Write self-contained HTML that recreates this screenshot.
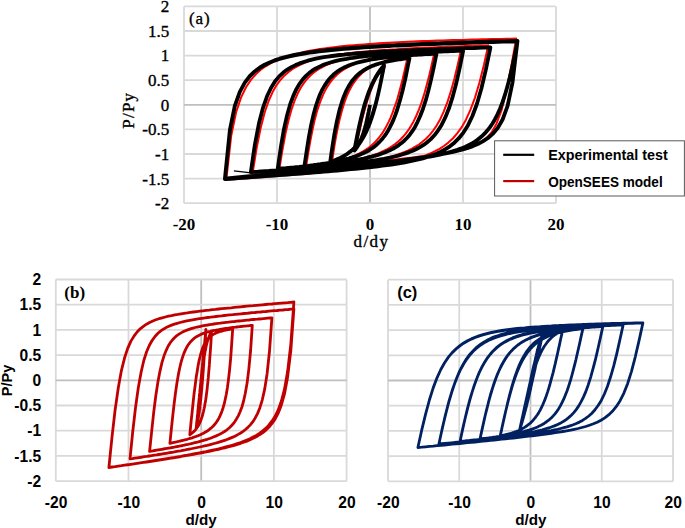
<!DOCTYPE html>
<html><head><meta charset="utf-8"><style>
html,body{margin:0;padding:0;background:#fff;}
svg{display:block;}
</style></head><body>
<svg width="685" height="528" viewBox="0 0 685 528">
<rect width="685" height="528" fill="#fff"/>
<line x1="184.00" y1="6.40" x2="184.00" y2="203.20" stroke="#d9d9d9" stroke-width="1.8"/>
<line x1="277.00" y1="6.40" x2="277.00" y2="203.20" stroke="#d9d9d9" stroke-width="1.8"/>
<line x1="370.00" y1="6.40" x2="370.00" y2="203.20" stroke="#bfbfbf" stroke-width="1.8"/>
<line x1="463.00" y1="6.40" x2="463.00" y2="203.20" stroke="#d9d9d9" stroke-width="1.8"/>
<line x1="556.00" y1="6.40" x2="556.00" y2="203.20" stroke="#d9d9d9" stroke-width="1.8"/>
<line x1="184.00" y1="6.40" x2="556.00" y2="6.40" stroke="#d9d9d9" stroke-width="1.8"/>
<line x1="184.00" y1="31.00" x2="556.00" y2="31.00" stroke="#d9d9d9" stroke-width="1.8"/>
<line x1="184.00" y1="55.60" x2="556.00" y2="55.60" stroke="#d9d9d9" stroke-width="1.8"/>
<line x1="184.00" y1="80.20" x2="556.00" y2="80.20" stroke="#d9d9d9" stroke-width="1.8"/>
<line x1="184.00" y1="104.80" x2="556.00" y2="104.80" stroke="#bfbfbf" stroke-width="1.8"/>
<line x1="184.00" y1="129.40" x2="556.00" y2="129.40" stroke="#d9d9d9" stroke-width="1.8"/>
<line x1="184.00" y1="154.00" x2="556.00" y2="154.00" stroke="#d9d9d9" stroke-width="1.8"/>
<line x1="184.00" y1="178.60" x2="556.00" y2="178.60" stroke="#d9d9d9" stroke-width="1.8"/>
<line x1="184.00" y1="203.20" x2="556.00" y2="203.20" stroke="#d9d9d9" stroke-width="1.8"/>
<line x1="55.80" y1="279.50" x2="55.80" y2="481.10" stroke="#d9d9d9" stroke-width="1.8"/>
<line x1="128.50" y1="279.50" x2="128.50" y2="481.10" stroke="#d9d9d9" stroke-width="1.8"/>
<line x1="201.20" y1="279.50" x2="201.20" y2="481.10" stroke="#bfbfbf" stroke-width="1.8"/>
<line x1="273.90" y1="279.50" x2="273.90" y2="481.10" stroke="#d9d9d9" stroke-width="1.8"/>
<line x1="346.60" y1="279.50" x2="346.60" y2="481.10" stroke="#d9d9d9" stroke-width="1.8"/>
<line x1="55.80" y1="279.50" x2="346.60" y2="279.50" stroke="#d9d9d9" stroke-width="1.8"/>
<line x1="55.80" y1="304.70" x2="346.60" y2="304.70" stroke="#d9d9d9" stroke-width="1.8"/>
<line x1="55.80" y1="329.90" x2="346.60" y2="329.90" stroke="#d9d9d9" stroke-width="1.8"/>
<line x1="55.80" y1="355.10" x2="346.60" y2="355.10" stroke="#d9d9d9" stroke-width="1.8"/>
<line x1="55.80" y1="380.30" x2="346.60" y2="380.30" stroke="#bfbfbf" stroke-width="1.8"/>
<line x1="55.80" y1="405.50" x2="346.60" y2="405.50" stroke="#d9d9d9" stroke-width="1.8"/>
<line x1="55.80" y1="430.70" x2="346.60" y2="430.70" stroke="#d9d9d9" stroke-width="1.8"/>
<line x1="55.80" y1="455.90" x2="346.60" y2="455.90" stroke="#d9d9d9" stroke-width="1.8"/>
<line x1="55.80" y1="481.10" x2="346.60" y2="481.10" stroke="#d9d9d9" stroke-width="1.8"/>
<line x1="388.00" y1="279.70" x2="388.00" y2="481.30" stroke="#d9d9d9" stroke-width="1.8"/>
<line x1="459.25" y1="279.70" x2="459.25" y2="481.30" stroke="#d9d9d9" stroke-width="1.8"/>
<line x1="530.50" y1="279.70" x2="530.50" y2="481.30" stroke="#bfbfbf" stroke-width="1.8"/>
<line x1="601.75" y1="279.70" x2="601.75" y2="481.30" stroke="#d9d9d9" stroke-width="1.8"/>
<line x1="673.00" y1="279.70" x2="673.00" y2="481.30" stroke="#d9d9d9" stroke-width="1.8"/>
<line x1="388.00" y1="279.70" x2="673.00" y2="279.70" stroke="#d9d9d9" stroke-width="1.8"/>
<line x1="388.00" y1="304.90" x2="673.00" y2="304.90" stroke="#d9d9d9" stroke-width="1.8"/>
<line x1="388.00" y1="330.10" x2="673.00" y2="330.10" stroke="#d9d9d9" stroke-width="1.8"/>
<line x1="388.00" y1="355.30" x2="673.00" y2="355.30" stroke="#d9d9d9" stroke-width="1.8"/>
<line x1="388.00" y1="380.50" x2="673.00" y2="380.50" stroke="#bfbfbf" stroke-width="1.8"/>
<line x1="388.00" y1="405.70" x2="673.00" y2="405.70" stroke="#d9d9d9" stroke-width="1.8"/>
<line x1="388.00" y1="430.90" x2="673.00" y2="430.90" stroke="#d9d9d9" stroke-width="1.8"/>
<line x1="388.00" y1="456.10" x2="673.00" y2="456.10" stroke="#d9d9d9" stroke-width="1.8"/>
<line x1="388.00" y1="481.30" x2="673.00" y2="481.30" stroke="#d9d9d9" stroke-width="1.8"/>
<path d="M370.0,104.8L369.8,106.0L369.5,107.1L369.3,108.3L369.0,109.4L368.8,110.6L368.5,111.7L368.3,112.8L368.0,113.9L367.8,115.0L367.6,116.1L367.3,117.1L367.1,118.2L366.8,119.2L366.6,120.2L366.3,121.2L366.1,122.2L365.8,123.2L365.6,124.1L365.4,125.0L365.1,125.9L364.9,126.8L364.6,127.7L364.4,128.5L364.1,129.4L363.9,130.2L363.6,131.0L363.4,131.8L363.2,132.5L362.9,133.3L362.7,134.0L362.4,134.7L362.2,135.4L361.9,136.1L361.7,136.8L361.4,137.4L361.2,138.1L361.0,138.7L360.7,139.3L360.5,139.9L360.2,140.4L360.0,141.0L359.7,141.5L359.5,142.1L359.2,142.6L359.0,143.1L358.8,143.6L358.5,144.1L358.3,144.6L358.0,145.0L357.8,145.5L357.5,145.9L357.3,146.3L357.1,146.8L356.8,147.2L356.6,147.6L356.3,148.0L356.1,148.3L355.8,148.7L355.6,149.1L356.1,146.7L356.6,144.4L357.1,142.0L357.6,139.7L358.1,137.4L358.6,135.1L359.1,132.9L359.6,130.7L360.1,128.5L360.6,126.3L361.0,124.2L361.5,122.1L362.0,120.1L362.5,118.1L363.0,116.1L363.5,114.2L364.0,112.3L364.5,110.4L365.0,108.6L365.5,106.9L366.0,105.2L366.5,103.5L367.0,101.9L367.5,100.3L368.0,98.7L368.5,97.2L369.0,95.7L369.5,94.3L370.0,92.9L370.5,91.5L371.0,90.2L371.5,88.9L372.0,87.6L372.5,86.4L373.0,85.2L373.5,84.0L374.0,82.9L374.5,81.8L374.9,80.7L375.4,79.7L375.9,78.7L376.4,77.7L376.9,76.7L377.4,75.8L377.9,74.9L378.4,74.0L378.9,73.2L379.4,72.3L379.9,71.5L380.4,70.7L380.9,69.9L381.4,69.2L381.9,68.5L382.4,67.7L382.9,67.1L383.4,66.4L383.9,65.7L384.4,65.1L384.9,64.5L384.4,66.8L383.9,69.2L383.4,71.5L382.9,73.8L382.4,76.1L381.9,78.4L381.4,80.7L380.9,82.9L380.4,85.1L379.9,87.2L379.4,89.3L378.9,91.4L378.4,93.5L377.9,95.5L377.4,97.4L376.9,99.4L376.4,101.2L375.9,103.1L375.4,104.9L374.9,106.6L374.5,108.3L374.0,110.0L373.5,111.7L373.0,113.2L372.5,114.8L372.0,116.3L371.5,117.8L371.0,119.2L370.5,120.6L370.0,122.0L369.5,123.3L369.0,124.6L368.5,125.9L368.0,127.1L367.5,128.3L367.0,129.5L366.5,130.6L366.0,131.7L365.5,132.8L365.0,133.8L364.5,134.8L364.0,135.8L363.5,136.8L363.0,137.7L362.5,138.6L362.0,139.5L361.5,140.3L361.0,141.2L360.6,142.0L360.1,142.8L359.6,143.6L359.1,144.3L358.6,145.1L358.1,145.8L357.6,146.5L357.1,147.1L356.6,147.8L356.1,148.5L355.6,149.1L356.1,146.7L356.6,144.4L357.1,142.0L357.6,139.7L358.1,137.4L358.6,135.1L359.1,132.9L359.6,130.7L360.1,128.5L360.6,126.3L361.0,124.2L361.5,122.1L362.0,120.1L362.5,118.1L363.0,116.1L363.5,114.2L364.0,112.3L364.5,110.4L365.0,108.6L365.5,106.9L366.0,105.2L366.5,103.5L367.0,101.9L367.5,100.3L368.0,98.7L368.5,97.2L369.0,95.7L369.5,94.3L370.0,92.9L370.5,91.5L371.0,90.2L371.5,88.9L372.0,87.6L372.5,86.4L373.0,85.2L373.5,84.0L374.0,82.9L374.5,81.8L374.9,80.7L375.4,79.7L375.9,78.7L376.4,77.7L376.9,76.7L377.4,75.8L377.9,74.9L378.4,74.0L378.9,73.2L379.4,72.3L379.9,71.5L380.4,70.7L380.9,69.9L381.4,69.2L381.9,68.5L382.4,67.7L382.9,67.1L383.4,66.4L383.9,65.7L384.4,65.1L384.9,64.5L384.0,68.5L383.1,72.6L382.2,76.6L381.3,80.5L380.4,84.3L379.5,88.0L378.6,91.6L377.7,95.1L376.8,98.5L375.9,101.7L375.0,104.8L374.1,107.8L373.2,110.6L372.3,113.3L371.4,115.9L370.5,118.4L369.6,120.7L368.7,122.9L367.8,125.1L366.9,127.1L366.0,129.0L365.1,130.8L364.2,132.6L363.3,134.2L362.4,135.8L361.5,137.3L360.6,138.7L359.7,140.1L358.8,141.4L357.9,142.6L357.0,143.8L356.1,144.9L355.2,145.9L354.3,147.0L353.4,147.9L352.5,148.9L351.6,149.7L350.7,150.6L349.8,151.4L348.9,152.2L348.0,152.9L347.1,153.6L346.2,154.3L345.3,155.0L344.4,155.6L343.6,156.2L342.7,156.8L341.8,157.4L340.9,157.9L340.0,158.4L339.1,158.9L338.2,159.4L337.3,159.9L336.4,160.3L335.5,160.8L334.6,161.2L333.7,161.6L332.8,162.0L331.9,162.4L333.2,154.0L334.4,146.0L335.7,138.5L337.0,131.6L338.3,125.3L339.6,119.6L340.9,114.4L342.2,109.7L343.5,105.4L344.7,101.6L346.0,98.1L347.3,94.9L348.6,92.0L349.9,89.4L351.2,87.0L352.5,84.8L353.8,82.8L355.1,81.0L356.3,79.3L357.6,77.7L358.9,76.3L360.2,75.0L361.5,73.7L362.8,72.6L364.1,71.5L365.4,70.5L366.6,69.6L367.9,68.7L369.2,67.9L370.5,67.2L371.8,66.5L373.1,65.8L374.4,65.2L375.7,64.6L376.9,64.0L378.2,63.5L379.5,62.9L380.8,62.5L382.1,62.0L383.4,61.6L384.7,61.2L386.0,60.8L387.2,60.4L388.5,60.0L389.8,59.7L391.1,59.4L392.4,59.0L393.7,58.7L395.0,58.5L396.3,58.2L397.5,57.9L398.8,57.7L400.1,57.4L401.4,57.2L402.7,56.9L404.0,56.7L405.3,56.5L406.6,56.3L407.9,56.1L406.1,63.9L404.4,71.5L402.7,78.8L400.9,85.7L399.2,92.2L397.5,98.2L395.8,103.7L394.0,108.7L392.3,113.4L390.6,117.6L388.9,121.4L387.1,124.9L385.4,128.1L383.7,131.0L382.0,133.6L380.2,136.0L378.5,138.2L376.8,140.2L375.1,142.0L373.3,143.7L371.6,145.3L369.9,146.7L368.2,148.0L366.4,149.2L364.7,150.4L363.0,151.4L361.2,152.4L359.5,153.3L357.8,154.2L356.1,155.0L354.3,155.8L352.6,156.5L350.9,157.2L349.2,157.8L347.4,158.4L345.7,159.0L344.0,159.5L342.3,160.1L340.5,160.5L338.8,161.0L337.1,161.5L335.4,161.9L333.6,162.3L331.9,162.7L330.2,163.1L328.5,163.5L326.7,163.8L325.0,164.2L323.3,164.5L321.6,164.8L319.8,165.1L318.1,165.4L316.4,165.7L314.6,166.0L312.9,166.3L311.2,166.5L309.5,166.8L307.7,167.0L306.0,167.3L308.2,153.3L310.4,140.6L312.6,129.5L314.7,119.9L316.9,111.8L319.1,104.9L321.3,99.0L323.5,93.9L325.6,89.6L327.8,85.9L330.0,82.7L332.2,79.8L334.4,77.4L336.5,75.2L338.7,73.3L340.9,71.5L343.1,70.0L345.3,68.6L347.4,67.4L349.6,66.3L351.8,65.2L354.0,64.3L356.2,63.4L358.3,62.6L360.5,61.9L362.7,61.2L364.9,60.6L367.1,60.0L369.2,59.5L371.4,59.0L373.6,58.5L375.8,58.1L378.0,57.7L380.1,57.3L382.3,56.9L384.5,56.6L386.7,56.2L388.9,55.9L391.0,55.6L393.2,55.3L395.4,55.1L397.6,54.8L399.8,54.6L401.9,54.3L404.1,54.1L406.3,53.9L408.5,53.7L410.7,53.5L412.8,53.3L415.0,53.1L417.2,52.9L419.4,52.7L421.6,52.6L423.7,52.4L425.9,52.3L428.1,52.1L430.3,52.0L432.5,51.8L434.6,51.7L432.0,63.5L429.4,74.8L426.7,85.1L424.1,94.4L421.5,102.6L418.8,109.8L416.2,116.0L413.6,121.4L410.9,126.1L408.3,130.2L405.7,133.7L403.0,136.8L400.4,139.5L397.8,141.9L395.1,144.1L392.5,145.9L389.9,147.6L387.3,149.1L384.6,150.5L382.0,151.7L379.4,152.9L376.7,153.9L374.1,154.9L371.5,155.7L368.8,156.5L366.2,157.3L363.6,158.0L360.9,158.7L358.3,159.3L355.7,159.9L353.0,160.4L350.4,160.9L347.8,161.4L345.1,161.9L342.5,162.3L339.9,162.8L337.2,163.2L334.6,163.6L332.0,164.0L329.3,164.3L326.7,164.7L324.1,165.0L321.4,165.4L318.8,165.7L316.2,166.0L313.5,166.3L310.9,166.6L308.3,166.9L305.6,167.2L303.0,167.4L300.4,167.7L297.8,168.0L295.1,168.3L292.5,168.5L289.9,168.8L287.2,169.0L284.6,169.3L282.0,169.5L279.3,169.7L282.4,150.2L285.5,133.6L288.6,120.0L291.7,109.0L294.7,100.3L297.8,93.3L300.9,87.5L304.0,82.9L307.1,79.0L310.2,75.8L313.3,73.0L316.3,70.7L319.4,68.7L322.5,67.0L325.6,65.4L328.7,64.1L331.8,62.9L334.9,61.9L337.9,60.9L341.0,60.1L344.1,59.3L347.2,58.6L350.3,57.9L353.4,57.3L356.4,56.8L359.5,56.3L362.6,55.8L365.7,55.4L368.8,55.0L371.9,54.6L375.0,54.3L378.0,53.9L381.1,53.6L384.2,53.3L387.3,53.0L390.4,52.8L393.5,52.5L396.5,52.3L399.6,52.0L402.7,51.8L405.8,51.6L408.9,51.4L412.0,51.2L415.1,51.0L418.1,50.8L421.2,50.6L424.3,50.5L427.4,50.3L430.5,50.1L433.6,50.0L436.6,49.8L439.7,49.7L442.8,49.5L445.9,49.4L449.0,49.2L452.1,49.1L455.2,49.0L458.2,48.8L461.3,48.7L457.8,64.5L454.3,79.1L450.7,91.9L447.2,102.7L443.6,111.8L440.1,119.4L436.6,125.6L433.0,130.8L429.5,135.1L426.0,138.8L422.4,141.8L418.9,144.5L415.3,146.7L411.8,148.7L408.3,150.4L404.7,152.0L401.2,153.3L397.7,154.5L394.1,155.6L390.6,156.6L387.0,157.5L383.5,158.4L380.0,159.2L376.4,159.9L372.9,160.5L369.4,161.2L365.8,161.8L362.3,162.3L358.7,162.9L355.2,163.4L351.7,163.8L348.1,164.3L344.6,164.7L341.1,165.2L337.5,165.6L334.0,166.0L330.5,166.4L326.9,166.7L323.4,167.1L319.8,167.5L316.3,167.8L312.8,168.1L309.2,168.5L305.7,168.8L302.2,169.1L298.6,169.4L295.1,169.8L291.5,170.1L288.0,170.4L284.5,170.7L280.9,171.0L277.4,171.2L273.9,171.5L270.3,171.8L266.8,172.1L263.2,172.4L259.7,172.6L256.2,172.9L252.6,173.2L256.6,148.3L260.6,128.2L264.6,112.8L268.6,101.0L272.6,92.1L276.6,85.1L280.6,79.7L284.6,75.4L288.6,71.9L292.6,69.0L296.6,66.6L300.6,64.5L304.6,62.8L308.6,61.3L312.5,60.0L316.5,58.9L320.5,57.9L324.5,57.0L328.5,56.2L332.5,55.5L336.5,54.8L340.5,54.2L344.5,53.7L348.5,53.2L352.5,52.7L356.5,52.3L360.5,51.9L364.5,51.5L368.5,51.2L372.5,50.8L376.5,50.5L380.5,50.2L384.4,49.9L388.4,49.7L392.4,49.4L396.4,49.2L400.4,48.9L404.4,48.7L408.4,48.5L412.4,48.3L416.4,48.1L420.4,47.9L424.4,47.7L428.4,47.5L432.4,47.4L436.4,47.2L440.4,47.0L444.4,46.9L448.4,46.7L452.3,46.5L456.3,46.4L460.3,46.2L464.3,46.1L468.3,45.9L472.3,45.8L476.3,45.7L480.3,45.5L484.3,45.4L488.3,45.3L483.9,65.0L479.4,82.7L475.0,97.6L470.5,109.7L466.1,119.4L461.7,127.2L457.2,133.4L452.8,138.5L448.3,142.6L443.9,146.0L439.5,148.8L435.0,151.2L430.6,153.3L426.1,155.1L421.7,156.7L417.3,158.0L412.8,159.3L408.4,160.4L403.9,161.4L399.5,162.3L395.0,163.2L390.6,164.0L386.2,164.7L381.7,165.4L377.3,166.0L372.8,166.6L368.4,167.2L364.0,167.7L359.5,168.3L355.1,168.8L350.6,169.3L346.2,169.7L341.8,170.2L337.3,170.6L332.9,171.1L328.4,171.5L324.0,171.9L319.6,172.3L315.1,172.7L310.7,173.1L306.2,173.5L301.8,173.8L297.4,174.2L292.9,174.6L288.5,174.9L284.0,175.3L279.6,175.6L275.2,176.0L270.7,176.3L266.3,176.6L261.8,177.0L257.4,177.3L253.0,177.6L248.5,178.0L244.1,178.3L239.6,178.6L235.2,178.9L230.8,179.3L226.3,179.6L231.2,135.8L236.1,112.2L241.1,97.4L246.0,87.2L250.9,79.9L255.8,74.3L260.7,69.8L265.6,66.3L270.5,63.4L275.4,60.9L280.4,58.8L285.3,57.0L290.2,55.4L295.1,54.1L300.0,52.9L304.9,51.8L309.8,50.8L314.8,49.9L319.7,49.1L324.6,48.4L329.5,47.8L334.4,47.2L339.3,46.6L344.2,46.1L349.1,45.6L354.1,45.2L359.0,44.7L363.9,44.4L368.8,44.0L373.7,43.7L378.6,43.3L383.5,43.0L388.5,42.8L393.4,42.5L398.3,42.2L403.2,42.0L408.1,41.8L413.0,41.5L417.9,41.3L422.8,41.1L427.8,41.0L432.7,40.8L437.6,40.6L442.5,40.4L447.4,40.3L452.3,40.1L457.2,40.0L462.2,39.9L467.1,39.7L472.0,39.6L476.9,39.5L481.8,39.3L486.7,39.2L491.6,39.1L496.5,39.0L501.5,38.9L506.4,38.8L511.3,38.7L516.2,38.6L511.3,66.1L506.4,91.0L501.5,110.4L496.5,123.7L491.6,132.4L486.7,138.0L481.8,141.9L476.9,144.6L472.0,146.6L467.1,148.2L462.2,149.4L457.2,150.6L452.3,151.5L447.4,152.4L442.5,153.2L437.6,154.0L432.7,154.7L427.8,155.4L422.8,156.1L417.9,156.7L413.0,157.4L408.1,158.0L403.2,158.6L398.3,159.2L393.4,159.8L388.5,160.4L383.5,161.0L378.6,161.6L373.7,162.2L368.8,162.8L363.9,163.4L359.0,164.0L354.1,164.6L349.1,165.2L344.2,165.8L339.3,166.3L334.4,166.9L329.5,167.5L324.6,168.1L319.7,168.7L314.8,169.2L309.8,169.8L304.9,170.4L300.0,171.0L295.1,171.5L290.2,172.1L285.3,172.7L280.4,173.3L275.4,173.8L270.5,174.4L265.6,175.0L260.7,175.6L255.8,176.1L250.9,176.7L246.0,177.3L241.1,177.9L236.1,178.4L231.2,179.0L226.3,179.6L231.2,135.8L236.1,112.2L241.1,97.4L246.0,87.2L250.9,79.9L255.8,74.3L260.7,69.8L265.6,66.3L270.5,63.4L275.4,60.9L280.4,58.8L285.3,57.0L290.2,55.4L295.1,54.1L300.0,52.9L304.9,51.8L309.8,50.8L314.8,49.9L319.7,49.1L324.6,48.4L329.5,47.8L334.4,47.2L339.3,46.6L344.2,46.1L349.1,45.6L354.1,45.2L359.0,44.7L363.9,44.4L368.8,44.0L373.7,43.7L378.6,43.3L383.5,43.0L388.5,42.8L393.4,42.5L398.3,42.2L403.2,42.0L408.1,41.8L413.0,41.5L417.9,41.3L422.8,41.1L427.8,41.0L432.7,40.8L437.6,40.6L442.5,40.4L447.4,40.3L452.3,40.1L457.2,40.0L462.2,39.9L467.1,39.7L472.0,39.6L476.9,39.5L481.8,39.3L486.7,39.2L491.6,39.1L496.5,39.0L501.5,38.9L506.4,38.8L511.3,38.7L516.2,38.6" fill="none" stroke="#ff0000" stroke-width="2" stroke-linejoin="round"/>
<path d="M370.0,104.8L369.7,106.2L369.5,107.6L369.2,108.9L368.9,110.3L368.7,111.6L368.4,113.0L368.2,114.2L367.9,115.5L367.6,116.8L367.4,118.0L367.1,119.2L366.8,120.3L366.6,121.5L366.3,122.6L366.1,123.7L365.8,124.7L365.5,125.8L365.3,126.8L365.0,127.8L364.7,128.7L364.5,129.6L364.2,130.5L363.9,131.4L363.7,132.2L363.4,133.1L363.2,133.9L362.9,134.6L362.6,135.4L362.4,136.1L362.1,136.8L361.8,137.5L361.6,138.2L361.3,138.8L361.0,139.5L360.8,140.1L360.5,140.7L360.3,141.3L360.0,141.8L359.7,142.4L359.5,142.9L359.2,143.4L358.9,143.9L358.7,144.4L358.4,144.9L358.2,145.3L357.9,145.8L357.6,146.2L357.4,146.6L357.1,147.0L356.8,147.4L356.6,147.8L356.3,148.2L356.0,148.6L355.8,148.9L355.5,149.3L355.3,149.6L355.0,149.9L354.7,150.2L354.5,150.6L355.0,147.9L355.5,145.3L356.0,142.7L356.5,140.1L357.0,137.6L357.5,135.1L358.0,132.7L358.5,130.3L359.0,127.9L359.5,125.6L360.0,123.3L360.5,121.1L361.0,119.0L361.5,116.9L362.0,114.9L362.5,112.9L363.0,111.0L363.5,109.1L364.0,107.3L364.5,105.5L365.0,103.8L365.5,102.1L366.0,100.5L366.5,98.9L367.0,97.4L367.5,95.9L368.0,94.4L368.5,93.1L369.0,91.7L369.5,90.4L370.0,89.1L370.5,87.9L371.0,86.7L371.5,85.5L372.0,84.4L372.5,83.3L373.0,82.3L373.5,81.2L374.0,80.2L374.5,79.3L375.0,78.3L375.5,77.4L376.0,76.6L376.5,75.7L377.0,74.9L377.5,74.1L378.0,73.3L378.5,72.5L379.0,71.8L379.5,71.1L380.0,70.4L380.5,69.7L381.0,69.0L381.5,68.4L382.0,67.8L382.5,67.2L383.0,66.6L383.5,66.0L383.9,65.4L383.5,68.1L383.0,70.7L382.5,73.3L382.0,75.9L381.5,78.4L381.0,80.9L380.5,83.3L380.0,85.7L379.5,88.1L379.0,90.4L378.5,92.6L378.0,94.8L377.5,96.9L377.0,99.0L376.5,101.0L376.0,103.0L375.5,104.9L375.0,106.7L374.5,108.5L374.0,110.3L373.5,112.0L373.0,113.6L372.5,115.2L372.0,116.8L371.5,118.3L371.0,119.7L370.5,121.2L370.0,122.5L369.5,123.9L369.0,125.1L368.5,126.4L368.0,127.6L367.5,128.8L367.0,129.9L366.5,131.0L366.0,132.1L365.5,133.1L365.0,134.1L364.5,135.1L364.0,136.0L363.5,136.9L363.0,137.8L362.5,138.7L362.0,139.5L361.5,140.3L361.0,141.1L360.5,141.9L360.0,142.6L359.5,143.4L359.0,144.1L358.5,144.7L358.0,145.4L357.5,146.1L357.0,146.7L356.5,147.3L356.0,147.9L355.5,148.5L355.0,149.0L354.5,149.6L355.0,146.9L355.5,144.3L356.0,141.7L356.5,139.2L357.0,136.6L357.5,134.1L358.0,131.7L358.5,129.3L359.0,127.0L359.5,124.7L360.0,122.5L360.5,120.3L361.0,118.2L361.5,116.1L362.0,114.1L362.5,112.1L363.0,110.2L363.5,108.4L364.0,106.6L364.5,104.9L365.0,103.2L365.5,101.6L366.0,100.0L366.5,98.5L367.0,97.0L367.5,95.5L368.0,94.1L368.5,92.8L369.0,91.5L369.5,90.2L370.0,89.0L370.5,87.8L371.0,86.7L371.5,85.5L372.0,84.5L372.5,83.4L373.0,82.4L373.5,81.4L374.0,80.5L374.5,79.6L375.0,78.7L375.5,77.8L376.0,77.0L376.5,76.1L377.0,75.4L377.5,74.6L378.0,73.8L378.5,73.1L379.0,72.4L379.5,71.7L380.0,71.1L380.5,70.4L381.0,69.8L381.5,69.2L382.0,68.6L382.5,68.0L383.0,67.5L383.5,67.0L383.9,66.4L383.0,71.0L382.1,75.5L381.2,79.9L380.3,84.3L379.4,88.4L378.5,92.5L377.6,96.3L376.7,100.0L375.8,103.6L374.8,106.9L373.9,110.1L373.0,113.1L372.1,116.0L371.2,118.7L370.3,121.2L369.4,123.6L368.5,125.8L367.6,127.9L366.6,129.9L365.7,131.8L364.8,133.6L363.9,135.3L363.0,136.8L362.1,138.3L361.2,139.7L360.3,141.0L359.4,142.3L358.4,143.5L357.5,144.6L356.6,145.6L355.7,146.6L354.8,147.6L353.9,148.5L353.0,149.3L352.1,150.1L351.2,150.9L350.2,151.6L349.3,152.3L348.4,153.0L347.5,153.7L346.6,154.3L345.7,154.8L344.8,155.4L343.9,155.9L343.0,156.4L342.0,156.9L341.1,157.4L340.2,157.9L339.3,158.3L338.4,158.7L337.5,159.1L336.6,159.5L335.7,159.9L334.8,160.2L333.8,160.6L332.9,160.9L332.0,161.3L331.1,161.6L330.2,161.9L331.5,152.4L332.9,143.5L334.2,135.2L335.6,127.8L336.9,121.1L338.3,115.1L339.6,109.7L341.0,105.0L342.3,100.8L343.6,97.0L345.0,93.7L346.3,90.7L347.7,88.0L349.0,85.6L350.4,83.5L351.7,81.5L353.1,79.7L354.4,78.2L355.7,76.7L357.1,75.4L358.4,74.2L359.8,73.0L361.1,72.0L362.5,71.1L363.8,70.2L365.2,69.4L366.5,68.6L367.8,67.9L369.2,67.3L370.5,66.7L371.9,66.1L373.2,65.6L374.6,65.1L375.9,64.6L377.3,64.2L378.6,63.7L379.9,63.3L381.3,63.0L382.6,62.6L384.0,62.3L385.3,61.9L386.7,61.6L388.0,61.4L389.4,61.1L390.7,60.8L392.0,60.6L393.4,60.3L394.7,60.1L396.1,59.9L397.4,59.7L398.8,59.4L400.1,59.3L401.5,59.1L402.8,58.9L404.1,58.7L405.5,58.5L406.8,58.4L408.2,58.2L409.5,58.1L407.7,66.9L406.0,75.5L404.2,83.6L402.4,91.2L400.6,98.1L398.8,104.3L397.1,110.0L395.3,115.0L393.5,119.6L391.7,123.6L389.9,127.2L388.2,130.4L386.4,133.3L384.6,135.9L382.8,138.2L381.0,140.3L379.2,142.2L377.5,143.9L375.7,145.5L373.9,146.9L372.1,148.2L370.3,149.4L368.6,150.5L366.8,151.5L365.0,152.4L363.2,153.3L361.4,154.1L359.7,154.8L357.9,155.5L356.1,156.2L354.3,156.8L352.5,157.4L350.7,157.9L349.0,158.5L347.2,158.9L345.4,159.4L343.6,159.9L341.8,160.3L340.1,160.7L338.3,161.1L336.5,161.4L334.7,161.8L332.9,162.1L331.2,162.4L329.4,162.8L327.6,163.1L325.8,163.4L324.0,163.6L322.2,163.9L320.5,164.2L318.7,164.4L316.9,164.7L315.1,164.9L313.3,165.2L311.6,165.4L309.8,165.6L308.0,165.9L306.2,166.1L304.4,166.3L306.7,150.8L308.9,136.9L311.1,125.1L313.4,115.1L315.6,106.9L317.9,100.0L320.1,94.3L322.3,89.6L324.6,85.6L326.8,82.2L329.1,79.3L331.3,76.8L333.5,74.6L335.8,72.8L338.0,71.1L340.2,69.7L342.5,68.4L344.7,67.2L347.0,66.2L349.2,65.3L351.4,64.5L353.7,63.7L355.9,63.0L358.2,62.4L360.4,61.8L362.6,61.3L364.9,60.8L367.1,60.3L369.3,59.9L371.6,59.5L373.8,59.1L376.1,58.8L378.3,58.4L380.5,58.1L382.8,57.8L385.0,57.6L387.3,57.3L389.5,57.0L391.7,56.8L394.0,56.6L396.2,56.4L398.4,56.2L400.7,56.0L402.9,55.8L405.2,55.6L407.4,55.4L409.6,55.3L411.9,55.1L414.1,54.9L416.4,54.8L418.6,54.7L420.8,54.5L423.1,54.4L425.3,54.2L427.5,54.1L429.8,54.0L432.0,53.9L434.3,53.7L436.5,53.6L433.8,67.0L431.1,79.4L428.4,90.6L425.7,100.4L423.0,108.7L420.3,115.8L417.6,121.8L415.0,126.9L412.3,131.2L409.6,134.9L406.9,138.0L404.2,140.7L401.5,143.0L398.8,145.1L396.1,146.9L393.4,148.5L390.7,149.9L388.0,151.1L385.3,152.3L382.6,153.3L380.0,154.2L377.3,155.1L374.6,155.8L371.9,156.6L369.2,157.2L366.5,157.9L363.8,158.5L361.1,159.0L358.4,159.5L355.7,160.0L353.0,160.5L350.3,160.9L347.7,161.3L345.0,161.7L342.3,162.1L339.6,162.5L336.9,162.8L334.2,163.2L331.5,163.5L328.8,163.8L326.1,164.1L323.4,164.4L320.7,164.7L318.0,165.0L315.3,165.3L312.7,165.6L310.0,165.9L307.3,166.1L304.6,166.4L301.9,166.6L299.2,166.9L296.5,167.1L293.8,167.4L291.1,167.6L288.4,167.8L285.7,168.1L283.0,168.3L280.3,168.5L277.7,168.8L280.8,147.4L283.9,129.4L287.1,115.2L290.2,104.2L293.4,95.6L296.5,88.9L299.7,83.6L302.8,79.4L306.0,75.9L309.1,73.1L312.2,70.7L315.4,68.7L318.5,67.1L321.7,65.6L324.8,64.3L328.0,63.2L331.1,62.3L334.3,61.4L337.4,60.6L340.5,59.9L343.7,59.3L346.8,58.8L350.0,58.2L353.1,57.8L356.3,57.3L359.4,56.9L362.6,56.6L365.7,56.2L368.8,55.9L372.0,55.6L375.1,55.3L378.3,55.0L381.4,54.8L384.6,54.5L387.7,54.3L390.9,54.1L394.0,53.9L397.1,53.7L400.3,53.5L403.4,53.3L406.6,53.1L409.7,52.9L412.9,52.8L416.0,52.6L419.2,52.5L422.3,52.3L425.5,52.2L428.6,52.0L431.7,51.9L434.9,51.8L438.0,51.6L441.2,51.5L444.3,51.4L447.5,51.3L450.6,51.1L453.8,51.0L456.9,50.9L460.0,50.8L463.2,50.7L459.6,68.4L456.0,84.3L452.4,97.7L448.8,108.8L445.2,117.7L441.6,124.9L438.0,130.6L434.4,135.3L430.8,139.1L427.2,142.2L423.6,144.9L420.0,147.1L416.4,149.0L412.8,150.7L409.2,152.1L405.6,153.4L402.0,154.5L398.4,155.6L394.8,156.5L391.2,157.3L387.6,158.1L384.0,158.8L380.4,159.4L376.8,160.0L373.2,160.6L369.6,161.2L366.0,161.7L362.4,162.2L358.8,162.6L355.2,163.1L351.6,163.5L348.0,163.9L344.4,164.3L340.8,164.7L337.2,165.0L333.6,165.4L330.0,165.8L326.4,166.1L322.8,166.4L319.2,166.8L315.6,167.1L312.0,167.4L308.4,167.7L304.8,168.0L301.2,168.3L297.6,168.6L294.0,168.9L290.4,169.2L286.8,169.5L283.2,169.8L279.6,170.0L276.0,170.3L272.4,170.6L268.8,170.9L265.2,171.1L261.6,171.4L258.0,171.7L254.4,171.9L250.8,172.2L254.8,145.1L258.9,123.6L263.0,107.8L267.0,96.3L271.1,87.7L275.1,81.3L279.2,76.4L283.3,72.6L287.3,69.6L291.4,67.1L295.5,65.1L299.5,63.4L303.6,62.0L307.6,60.7L311.7,59.7L315.8,58.7L319.8,57.9L323.9,57.2L328.0,56.6L332.0,56.0L336.1,55.5L340.1,55.0L344.2,54.6L348.3,54.1L352.3,53.8L356.4,53.4L360.4,53.1L364.5,52.8L368.6,52.5L372.6,52.2L376.7,52.0L380.8,51.7L384.8,51.5L388.9,51.3L392.9,51.1L397.0,50.9L401.1,50.7L405.1,50.5L409.2,50.3L413.3,50.1L417.3,50.0L421.4,49.8L425.4,49.6L429.5,49.5L433.6,49.3L437.6,49.2L441.7,49.0L445.8,48.9L449.8,48.8L453.9,48.6L457.9,48.5L462.0,48.4L466.1,48.2L470.1,48.1L474.2,48.0L478.2,47.8L482.3,47.7L486.4,47.6L490.4,47.5L485.9,69.4L481.4,88.5L476.9,104.0L472.4,116.0L467.9,125.4L463.4,132.6L458.9,138.2L454.4,142.7L449.9,146.3L445.4,149.2L440.9,151.6L436.4,153.7L431.9,155.4L427.4,157.0L422.9,158.3L418.4,159.4L413.9,160.5L409.4,161.4L404.9,162.3L400.4,163.1L395.9,163.8L391.4,164.5L386.9,165.1L382.4,165.7L377.9,166.3L373.4,166.8L368.9,167.4L364.4,167.8L359.9,168.3L355.4,168.8L350.9,169.2L346.4,169.7L341.9,170.1L337.4,170.5L332.9,170.9L328.4,171.3L323.9,171.7L319.4,172.0L314.9,172.4L310.4,172.8L305.9,173.1L301.4,173.5L296.9,173.8L292.4,174.2L287.9,174.5L283.4,174.9L278.9,175.2L274.4,175.6L269.9,175.9L265.4,176.2L260.9,176.5L256.4,176.9L251.9,177.2L247.4,177.5L242.9,177.8L238.4,178.1L233.9,178.5L229.4,178.8L224.9,179.1L229.9,130.4L234.8,106.1L239.8,91.9L244.8,82.7L249.7,76.2L254.7,71.4L259.6,67.7L264.6,64.7L269.6,62.4L274.5,60.4L279.5,58.7L284.4,57.3L289.4,56.0L294.3,54.9L299.3,54.0L304.3,53.1L309.2,52.3L314.2,51.6L319.1,51.0L324.1,50.4L329.1,49.9L334.0,49.4L339.0,48.9L343.9,48.5L348.9,48.1L353.9,47.7L358.8,47.3L363.8,47.0L368.7,46.7L373.7,46.4L378.6,46.1L383.6,45.8L388.6,45.5L393.5,45.3L398.5,45.0L403.4,44.8L408.4,44.6L413.4,44.4L418.3,44.1L423.3,43.9L428.2,43.7L433.2,43.5L438.2,43.4L443.1,43.2L448.1,43.0L453.0,42.8L458.0,42.6L462.9,42.5L467.9,42.3L472.9,42.2L477.8,42.0L482.8,41.8L487.7,41.7L492.7,41.5L497.7,41.4L502.6,41.3L507.6,41.1L512.5,41.0L517.5,40.8L512.5,82.6L507.6,105.9L502.6,119.5L497.7,128.1L492.7,133.9L487.7,138.2L482.8,141.4L477.8,144.0L472.9,146.1L467.9,147.9L462.9,149.4L458.0,150.7L453.0,151.9L448.1,153.0L443.1,154.0L438.2,154.9L433.2,155.7L428.2,156.5L423.3,157.3L418.3,158.0L413.4,158.7L408.4,159.4L403.4,160.1L398.5,160.7L393.5,161.3L388.6,161.9L383.6,162.5L378.6,163.1L373.7,163.6L368.7,164.2L363.8,164.8L358.8,165.3L353.9,165.8L348.9,166.4L343.9,166.9L339.0,167.4L334.0,167.9L329.1,168.4L324.1,168.9L319.1,169.4L314.2,169.9L309.2,170.4L304.3,170.9L299.3,171.4L294.3,171.9L289.4,172.4L284.4,172.9L279.5,173.4L274.5,173.9L269.6,174.3L264.6,174.8L259.6,175.3L254.7,175.8L249.7,176.2L244.8,176.7L239.8,177.2L234.8,177.7L229.9,178.1L224.9,178.6L229.9,130.0L234.8,105.9L239.8,91.9L244.8,82.7L249.7,76.3L254.7,71.5L259.6,67.9L264.6,65.0L269.6,62.6L274.5,60.6L279.5,59.0L284.4,57.6L289.4,56.4L294.3,55.3L299.3,54.3L304.3,53.5L309.2,52.7L314.2,52.0L319.1,51.4L324.1,50.8L329.1,50.3L334.0,49.8L339.0,49.3L343.9,48.9L348.9,48.5L353.9,48.1L358.8,47.8L363.8,47.4L368.7,47.1L373.7,46.8L378.6,46.5L383.6,46.3L388.6,46.0L393.5,45.7L398.5,45.5L403.4,45.3L408.4,45.0L413.4,44.8L418.3,44.6L423.3,44.4L428.2,44.2L433.2,44.0L438.2,43.8L443.1,43.6L448.1,43.5L453.0,43.3L458.0,43.1L462.9,43.0L467.9,42.8L472.9,42.6L477.8,42.5L482.8,42.3L487.7,42.2L492.7,42.0L497.7,41.9L502.6,41.7L507.6,41.6L512.5,41.5L517.5,41.3L515.0,53.8L512.5,65.6L510.0,76.4L507.5,86.1L505.0,94.7L502.5,102.2L500.0,108.7L497.5,114.3L495.0,119.2L492.5,123.5L490.0,127.1L487.5,130.3L485.0,133.2L482.5,135.6L480.0,137.8L477.5,139.8L475.0,141.5L472.5,143.1L470.0,144.5L467.5,145.7L465.0,146.9L462.5,148.0L460.0,148.9L457.5,149.8L455.0,150.6L452.5,151.4L450.0,152.1L447.5,152.8L445.0,153.4L442.5,154.0L440.0,154.6L437.5,155.1L435.0,155.6L432.5,156.1L430.0,156.5L427.5,156.9L425.0,157.4L422.5,157.7L420.0,158.1L417.5,158.5L415.0,158.8L412.5,159.2L410.0,159.5L407.5,159.8L405.0,160.2L402.5,160.5L400.0,160.7L397.5,161.0L395.0,161.3L392.5,161.6L390.0,161.9L387.5,162.1L385.0,162.4L382.5,162.6L380.0,162.9L377.5,163.1L375.0,163.4L372.5,163.6L370.0,163.8" fill="none" stroke="#000" stroke-width="3.8" stroke-linejoin="round"/>
<line x1="233.9" y1="170.9" x2="251" y2="172.9" stroke="#000" stroke-width="1.3"/>
<path d="M201.2,380.3L201.3,379.4L201.4,378.6L201.4,377.7L201.5,376.8L201.6,376.0L201.7,375.1L201.8,374.3L201.8,373.4L201.9,372.5L202.0,371.7L202.1,370.8L202.2,369.9L202.2,369.1L202.3,368.2L202.4,367.4L202.5,366.5L202.6,365.6L202.6,364.8L202.7,363.9L202.8,363.0L202.9,362.2L203.0,361.3L203.0,360.5L203.1,359.6L203.2,358.7L203.3,357.9L203.4,357.0L203.4,356.1L203.5,355.3L203.6,354.4L203.7,353.6L203.8,352.7L203.8,351.8L203.9,351.0L204.0,350.1L204.1,349.2L204.2,348.4L204.2,347.5L204.3,346.7L204.4,345.8L204.5,344.9L204.6,344.1L204.6,343.2L204.7,342.3L204.8,341.5L204.9,340.6L205.0,339.7L205.0,338.9L205.1,338.0L205.2,337.2L205.3,336.3L205.4,335.4L205.4,334.6L205.5,333.7L205.6,332.8L205.7,332.0L205.8,331.1L205.8,330.3L205.9,329.4L205.8,332.1L205.6,334.7L205.4,337.4L205.3,340.0L205.1,342.6L204.9,345.3L204.8,347.9L204.6,350.4L204.4,353.0L204.3,355.5L204.1,358.0L203.9,360.4L203.8,362.9L203.6,365.2L203.4,367.6L203.3,369.9L203.1,372.1L202.9,374.4L202.8,376.5L202.6,378.7L202.4,380.7L202.3,382.8L202.1,384.8L201.9,386.7L201.8,388.6L201.6,390.5L201.4,392.3L201.3,394.0L201.1,395.7L200.9,397.4L200.8,399.0L200.6,400.6L200.4,402.1L200.3,403.6L200.1,405.0L199.9,406.4L199.8,407.8L199.6,409.1L199.4,410.4L199.3,411.6L199.1,412.8L198.9,414.0L198.8,415.1L198.6,416.2L198.4,417.3L198.3,418.3L198.1,419.3L197.9,420.3L197.8,421.2L197.6,422.1L197.4,423.0L197.3,423.9L197.1,424.7L196.9,425.5L196.8,426.3L196.6,427.0L196.4,427.8L196.3,428.5L196.1,429.2L196.3,427.5L196.4,425.8L196.6,424.1L196.8,422.5L196.9,420.8L197.1,419.1L197.3,417.4L197.4,415.7L197.6,414.0L197.8,412.4L197.9,410.7L198.1,409.0L198.3,407.3L198.4,405.6L198.6,403.9L198.8,402.3L198.9,400.6L199.1,398.9L199.3,397.2L199.4,395.5L199.6,393.8L199.8,392.2L199.9,390.5L200.1,388.8L200.3,387.1L200.4,385.4L200.6,383.8L200.8,382.1L200.9,380.4L201.1,378.7L201.3,377.0L201.4,375.3L201.6,373.7L201.8,372.0L201.9,370.3L202.1,368.6L202.3,366.9L202.4,365.2L202.6,363.6L202.8,361.9L202.9,360.2L203.1,358.5L203.3,356.8L203.4,355.1L203.6,353.5L203.8,351.8L203.9,350.1L204.1,348.4L204.3,346.7L204.4,345.0L204.6,343.4L204.8,341.7L204.9,340.0L205.1,338.3L205.3,336.6L205.4,334.9L205.6,333.3L205.8,331.6L205.9,329.9L205.8,332.6L205.6,335.2L205.4,337.9L205.3,340.5L205.1,343.1L204.9,345.8L204.8,348.4L204.6,350.9L204.4,353.5L204.3,356.0L204.1,358.5L203.9,360.9L203.8,363.3L203.6,365.7L203.4,368.0L203.3,370.3L203.1,372.6L202.9,374.8L202.8,376.9L202.6,379.0L202.4,381.1L202.3,383.1L202.1,385.1L201.9,387.0L201.8,388.9L201.6,390.7L201.4,392.5L201.3,394.2L201.1,395.9L200.9,397.6L200.8,399.1L200.6,400.7L200.4,402.2L200.3,403.6L200.1,405.1L199.9,406.4L199.8,407.8L199.6,409.1L199.4,410.3L199.3,411.5L199.1,412.7L198.9,413.8L198.8,415.0L198.6,416.0L198.4,417.1L198.3,418.1L198.1,419.0L197.9,420.0L197.8,420.9L197.6,421.8L197.4,422.7L197.3,423.5L197.1,424.3L196.9,425.1L196.8,425.9L196.6,426.6L196.4,427.3L196.3,428.0L196.1,428.7L196.4,426.1L196.6,423.5L196.9,420.9L197.2,418.4L197.4,415.8L197.7,413.2L197.9,410.6L198.2,408.0L198.5,405.5L198.7,402.9L199.0,400.4L199.3,397.9L199.5,395.4L199.8,392.9L200.0,390.4L200.3,388.0L200.6,385.5L200.8,383.2L201.1,380.8L201.4,378.5L201.6,376.3L201.9,374.1L202.1,371.9L202.4,369.8L202.7,367.7L202.9,365.8L203.2,363.8L203.5,362.0L203.7,360.1L204.0,358.4L204.2,356.7L204.5,355.1L204.8,353.6L205.0,352.1L205.3,350.7L205.6,349.3L205.8,348.0L206.1,346.8L206.3,345.6L206.6,344.5L206.9,343.4L207.1,342.4L207.4,341.5L207.7,340.6L207.9,339.7L208.2,338.9L208.4,338.1L208.7,337.4L209.0,336.7L209.2,336.0L209.5,335.4L209.8,334.8L210.0,334.2L210.3,333.7L210.5,333.2L210.8,332.7L211.1,332.3L211.3,331.8L211.6,331.4L211.2,337.3L210.9,343.1L210.5,348.8L210.1,354.2L209.7,359.5L209.4,364.4L209.0,369.1L208.6,373.6L208.3,377.7L207.9,381.6L207.5,385.2L207.2,388.6L206.8,391.7L206.4,394.6L206.1,397.3L205.7,399.9L205.3,402.2L204.9,404.3L204.6,406.3L204.2,408.2L203.8,409.9L203.5,411.5L203.1,413.0L202.7,414.4L202.4,415.7L202.0,417.0L201.6,418.1L201.2,419.2L200.9,420.2L200.5,421.1L200.1,422.0L199.8,422.8L199.4,423.6L199.0,424.4L198.7,425.1L198.3,425.7L197.9,426.4L197.5,427.0L197.2,427.5L196.8,428.0L196.4,428.6L196.1,429.0L195.7,429.5L195.3,429.9L195.0,430.4L194.6,430.8L194.2,431.1L193.9,431.5L193.5,431.9L193.1,432.2L192.7,432.5L192.4,432.8L192.0,433.1L191.6,433.4L191.3,433.7L190.9,434.0L190.5,434.2L190.2,434.5L189.8,434.7L190.5,427.6L191.2,420.5L192.0,413.4L192.7,406.5L193.4,399.9L194.1,393.5L194.9,387.5L195.6,381.8L196.3,376.6L197.1,371.9L197.8,367.5L198.5,363.6L199.2,360.1L200.0,357.0L200.7,354.2L201.4,351.8L202.1,349.6L202.9,347.6L203.6,345.9L204.3,344.3L205.1,343.0L205.8,341.7L206.5,340.7L207.2,339.7L208.0,338.8L208.7,338.0L209.4,337.3L210.1,336.6L210.9,336.0L211.6,335.5L212.3,335.0L213.1,334.5L213.8,334.1L214.5,333.7L215.2,333.4L216.0,333.0L216.7,332.7L217.4,332.4L218.1,332.2L218.9,331.9L219.6,331.7L220.3,331.5L221.0,331.3L221.8,331.1L222.5,330.9L223.2,330.7L224.0,330.5L224.7,330.3L225.4,330.2L226.1,330.0L226.9,329.9L227.6,329.7L228.3,329.6L229.0,329.5L229.8,329.4L230.5,329.2L231.2,329.1L232.0,329.0L232.7,328.9L231.6,345.1L230.6,359.1L229.5,370.6L228.4,380.1L227.4,387.8L226.3,394.2L225.2,399.5L224.2,404.0L223.1,407.7L222.0,411.0L221.0,413.7L219.9,416.1L218.9,418.2L217.8,420.1L216.7,421.7L215.7,423.2L214.6,424.5L213.5,425.7L212.5,426.8L211.4,427.8L210.3,428.7L209.3,429.5L208.2,430.3L207.2,431.0L206.1,431.7L205.0,432.3L204.0,432.9L202.9,433.5L201.8,434.0L200.8,434.5L199.7,435.0L198.7,435.4L197.6,435.9L196.5,436.3L195.5,436.7L194.4,437.0L193.3,437.4L192.3,437.8L191.2,438.1L190.1,438.4L189.1,438.7L188.0,439.0L187.0,439.3L185.9,439.6L184.8,439.9L183.8,440.2L182.7,440.5L181.6,440.7L180.6,441.0L179.5,441.2L178.4,441.5L177.4,441.7L176.3,442.0L175.3,442.2L174.2,442.4L173.1,442.6L172.1,442.9L171.0,443.1L169.9,443.3L171.3,429.6L172.7,416.4L174.1,404.0L175.5,392.9L176.9,383.2L178.3,374.9L179.7,368.0L181.1,362.2L182.5,357.4L183.9,353.4L185.3,350.1L186.7,347.3L188.1,345.0L189.5,343.1L190.9,341.4L192.3,340.0L193.7,338.7L195.1,337.7L196.5,336.7L197.9,335.9L199.3,335.2L200.7,334.5L202.0,333.9L203.4,333.4L204.8,332.9L206.2,332.4L207.6,332.0L209.0,331.6L210.4,331.3L211.8,330.9L213.2,330.6L214.6,330.3L216.0,330.1L217.4,329.8L218.8,329.6L220.2,329.3L221.6,329.1L223.0,328.9L224.4,328.7L225.8,328.5L227.2,328.3L228.6,328.1L230.0,327.9L231.4,327.7L232.8,327.5L234.2,327.3L235.6,327.2L237.0,327.0L238.3,326.9L239.7,326.7L241.1,326.5L242.5,326.4L243.9,326.2L245.3,326.1L246.7,325.9L248.1,325.8L249.5,325.6L250.9,325.5L252.3,325.4L250.6,350.5L248.8,369.3L247.1,383.1L245.3,393.3L243.6,401.0L241.9,407.0L240.1,411.8L238.4,415.6L236.6,418.8L234.9,421.5L233.2,423.8L231.4,425.7L229.7,427.5L227.9,429.0L226.2,430.3L224.5,431.5L222.7,432.6L221.0,433.6L219.2,434.5L217.5,435.3L215.7,436.1L214.0,436.8L212.3,437.5L210.5,438.2L208.8,438.8L207.0,439.4L205.3,439.9L203.6,440.4L201.8,440.9L200.1,441.4L198.3,441.9L196.6,442.3L194.9,442.7L193.1,443.2L191.4,443.6L189.6,444.0L187.9,444.4L186.1,444.7L184.4,445.1L182.7,445.5L180.9,445.8L179.2,446.2L177.4,446.5L175.7,446.8L174.0,447.2L172.2,447.5L170.5,447.8L168.7,448.1L167.0,448.4L165.3,448.7L163.5,449.0L161.8,449.3L160.0,449.6L158.3,449.9L156.5,450.2L154.8,450.5L153.1,450.8L151.3,451.1L149.6,451.4L151.7,431.2L153.7,412.3L155.8,395.8L157.9,382.1L160.0,371.1L162.0,362.4L164.1,355.6L166.2,350.3L168.2,346.0L170.3,342.7L172.4,340.0L174.5,337.7L176.5,335.9L178.6,334.4L180.7,333.1L182.8,331.9L184.8,331.0L186.9,330.1L189.0,329.4L191.1,328.7L193.1,328.1L195.2,327.5L197.3,327.0L199.4,326.6L201.4,326.1L203.5,325.7L205.6,325.3L207.6,325.0L209.7,324.6L211.8,324.3L213.9,324.0L215.9,323.7L218.0,323.4L220.1,323.2L222.2,322.9L224.2,322.6L226.3,322.4L228.4,322.2L230.5,321.9L232.5,321.7L234.6,321.5L236.7,321.2L238.8,321.0L240.8,320.8L242.9,320.6L245.0,320.4L247.1,320.2L249.1,320.0L251.2,319.7L253.3,319.5L255.3,319.3L257.4,319.2L259.5,319.0L261.6,318.8L263.6,318.6L265.7,318.4L267.8,318.2L269.9,318.0L271.9,317.8L269.5,351.1L267.1,373.7L264.7,389.1L262.3,399.8L259.9,407.7L257.5,413.6L255.1,418.2L252.7,421.9L250.3,424.9L247.9,427.4L245.5,429.5L243.1,431.4L240.7,433.0L238.2,434.4L235.8,435.7L233.4,436.9L231.0,437.9L228.6,438.9L226.2,439.8L223.8,440.6L221.4,441.4L219.0,442.2L216.6,442.9L214.2,443.5L211.8,444.2L209.4,444.8L207.0,445.4L204.6,445.9L202.1,446.5L199.7,447.0L197.3,447.5L194.9,448.0L192.5,448.5L190.1,449.0L187.7,449.4L185.3,449.9L182.9,450.3L180.5,450.8L178.1,451.2L175.7,451.6L173.3,452.1L170.9,452.5L168.5,452.9L166.1,453.3L163.6,453.7L161.2,454.1L158.8,454.5L156.4,454.9L154.0,455.2L151.6,455.6L149.2,456.0L146.8,456.4L144.4,456.7L142.0,457.1L139.6,457.5L137.2,457.8L134.8,458.2L132.4,458.6L130.0,458.9L132.7,432.0L135.5,407.8L138.3,387.7L141.1,372.2L143.8,360.5L146.6,351.8L149.4,345.3L152.2,340.3L155.0,336.5L157.7,333.5L160.5,331.2L163.3,329.2L166.1,327.6L168.9,326.3L171.6,325.1L174.4,324.1L177.2,323.3L180.0,322.5L182.7,321.8L185.5,321.2L188.3,320.6L191.1,320.1L193.9,319.6L196.6,319.1L199.4,318.7L202.2,318.3L205.0,317.9L207.8,317.5L210.5,317.2L213.3,316.8L216.1,316.5L218.9,316.2L221.6,315.9L224.4,315.5L227.2,315.2L230.0,314.9L232.8,314.7L235.5,314.4L238.3,314.1L241.1,313.8L243.9,313.5L246.7,313.3L249.4,313.0L252.2,312.7L255.0,312.5L257.8,312.2L260.5,312.0L263.3,311.7L266.1,311.5L268.9,311.2L271.7,310.9L274.4,310.7L277.2,310.5L280.0,310.2L282.8,310.0L285.6,309.7L288.3,309.5L291.1,309.2L293.9,309.0L290.8,350.9L287.6,377.2L284.5,393.9L281.3,405.2L278.2,413.2L275.1,419.1L271.9,423.7L268.8,427.3L265.7,430.3L262.5,432.8L259.4,434.9L256.3,436.7L253.1,438.3L250.0,439.8L246.9,441.1L243.7,442.2L240.6,443.3L237.4,444.3L234.3,445.3L231.2,446.1L228.0,447.0L224.9,447.8L221.8,448.5L218.6,449.3L215.5,450.0L212.4,450.6L209.2,451.3L206.1,451.9L202.9,452.5L199.8,453.1L196.7,453.7L193.5,454.3L190.4,454.9L187.3,455.4L184.1,455.9L181.0,456.5L177.9,457.0L174.7,457.5L171.6,458.0L168.5,458.6L165.3,459.1L162.2,459.6L159.0,460.0L155.9,460.5L152.8,461.0L149.6,461.5L146.5,462.0L143.4,462.4L140.2,462.9L137.1,463.4L134.0,463.9L130.8,464.3L127.7,464.8L124.6,465.2L121.4,465.7L118.3,466.1L115.1,466.6L112.0,467.0L108.9,467.5L112.0,437.2L115.1,410.0L118.3,387.7L121.4,370.6L124.6,357.8L127.7,348.4L130.8,341.4L134.0,336.1L137.1,332.0L140.2,328.8L143.4,326.3L146.5,324.2L149.6,322.5L152.8,321.0L155.9,319.8L159.0,318.7L162.2,317.8L165.3,317.0L168.5,316.2L171.6,315.6L174.7,314.9L177.9,314.4L181.0,313.8L184.1,313.3L187.3,312.9L190.4,312.4L193.5,312.0L196.7,311.6L199.8,311.2L202.9,310.8L206.1,310.4L209.2,310.1L212.4,309.7L215.5,309.4L218.6,309.0L221.8,308.7L224.9,308.4L228.0,308.1L231.2,307.8L234.3,307.4L237.4,307.1L240.6,306.8L243.7,306.5L246.9,306.2L250.0,305.9L253.1,305.7L256.3,305.4L259.4,305.1L262.5,304.8L265.7,304.5L268.8,304.2L271.9,304.0L275.1,303.7L278.2,303.4L281.3,303.1L284.5,302.8L287.6,302.6L290.8,302.3L293.9,302.0L290.8,344.3L287.6,371.6L284.5,389.2L281.3,401.3L278.2,409.9L275.1,416.3L271.9,421.2L268.8,425.2L265.7,428.4L262.5,431.1L259.4,433.4L256.3,435.4L253.1,437.1L250.0,438.7L246.9,440.0L243.7,441.3L240.6,442.5L237.4,443.6L234.3,444.6L231.2,445.5L228.0,446.4L224.9,447.2L221.8,448.0L218.6,448.8L215.5,449.5L212.4,450.2L209.2,450.9L206.1,451.6L202.9,452.2L199.8,452.8L196.7,453.4L193.5,454.0L190.4,454.6L187.3,455.2L184.1,455.7L181.0,456.3L177.9,456.8L174.7,457.4L171.6,457.9L168.5,458.4L165.3,458.9L162.2,459.4L159.0,459.9L155.9,460.4L152.8,460.9L149.6,461.4L146.5,461.9L143.4,462.4L140.2,462.9L137.1,463.3L134.0,463.8L130.8,464.3L127.7,464.7L124.6,465.2L121.4,465.7L118.3,466.1L115.1,466.6L112.0,467.0L108.9,467.5" fill="none" stroke="#c00000" stroke-width="2.8" stroke-linejoin="round"/>
<path d="M530.5,380.5L530.6,380.2L530.6,379.9L530.7,379.7L530.7,379.4L530.8,379.1L530.9,378.8L530.9,378.6L531.0,378.3L531.0,378.0L531.1,377.7L531.2,377.4L531.2,377.2L531.3,376.9L531.3,376.6L531.4,376.3L531.5,376.1L531.5,375.8L531.6,375.5L531.6,375.2L531.7,374.9L531.8,374.7L531.8,374.4L531.9,374.1L531.9,373.8L532.0,373.6L532.1,373.3L532.1,373.0L532.2,372.7L532.3,372.5L532.3,372.2L532.4,371.9L532.4,371.6L532.5,371.3L532.6,371.1L532.6,370.8L532.7,370.5L532.7,370.2L532.8,370.0L532.9,369.7L532.9,369.4L533.0,369.2L533.0,368.9L533.1,368.6L533.2,368.3L533.2,368.1L533.3,367.8L533.3,367.5L533.4,367.3L533.5,367.0L533.5,366.7L533.6,366.5L533.6,366.2L533.7,365.9L533.8,365.7L533.8,365.4L533.9,365.1L533.9,364.9L534.0,364.6L534.1,364.4L533.9,364.9L533.8,365.5L533.7,366.1L533.6,366.6L533.5,367.2L533.3,367.8L533.2,368.3L533.1,368.9L533.0,369.4L532.9,370.0L532.7,370.6L532.6,371.1L532.5,371.7L532.4,372.3L532.3,372.8L532.1,373.4L532.0,374.0L531.9,374.5L531.8,375.1L531.6,375.6L531.5,376.2L531.4,376.8L531.3,377.3L531.2,377.9L531.0,378.5L530.9,379.0L530.8,379.6L530.7,380.2L530.6,380.7L530.4,381.3L530.3,381.8L530.2,382.4L530.1,383.0L530.0,383.5L529.8,384.1L529.7,384.7L529.6,385.2L529.5,385.8L529.4,386.4L529.2,386.9L529.1,387.5L529.0,388.1L528.9,388.6L528.7,389.2L528.6,389.7L528.5,390.3L528.4,390.9L528.3,391.4L528.1,392.0L528.0,392.6L527.9,393.1L527.8,393.7L527.7,394.3L527.5,394.8L527.4,395.4L527.3,395.9L527.2,396.5L527.1,397.1L526.9,397.6L527.1,397.1L527.2,396.5L527.3,395.9L527.4,395.4L527.5,394.8L527.7,394.3L527.8,393.7L527.9,393.1L528.0,392.6L528.1,392.0L528.3,391.4L528.4,390.9L528.5,390.3L528.6,389.7L528.7,389.2L528.9,388.6L529.0,388.1L529.1,387.5L529.2,386.9L529.4,386.4L529.5,385.8L529.6,385.2L529.7,384.7L529.8,384.1L530.0,383.5L530.1,383.0L530.2,382.4L530.3,381.8L530.4,381.3L530.6,380.7L530.7,380.2L530.8,379.6L530.9,379.0L531.0,378.5L531.2,377.9L531.3,377.3L531.4,376.8L531.5,376.2L531.6,375.6L531.8,375.1L531.9,374.5L532.0,374.0L532.1,373.4L532.3,372.8L532.4,372.3L532.5,371.7L532.6,371.1L532.7,370.6L532.9,370.0L533.0,369.4L533.1,368.9L533.2,368.3L533.3,367.8L533.5,367.2L533.6,366.6L533.7,366.1L533.8,365.5L533.9,364.9L534.1,364.4L533.9,364.9L533.8,365.5L533.7,366.1L533.6,366.6L533.5,367.2L533.3,367.8L533.2,368.3L533.1,368.9L533.0,369.4L532.9,370.0L532.7,370.6L532.6,371.1L532.5,371.7L532.4,372.3L532.3,372.8L532.1,373.4L532.0,374.0L531.9,374.5L531.8,375.1L531.6,375.6L531.5,376.2L531.4,376.8L531.3,377.3L531.2,377.9L531.0,378.5L530.9,379.0L530.8,379.6L530.7,380.2L530.6,380.7L530.4,381.3L530.3,381.8L530.2,382.4L530.1,383.0L530.0,383.5L529.8,384.1L529.7,384.7L529.6,385.2L529.5,385.8L529.4,386.4L529.2,386.9L529.1,387.5L529.0,388.1L528.9,388.6L528.7,389.2L528.6,389.7L528.5,390.3L528.4,390.9L528.3,391.4L528.1,392.0L528.0,392.6L527.9,393.1L527.8,393.7L527.7,394.3L527.5,394.8L527.4,395.4L527.3,395.9L527.2,396.5L527.1,397.1L526.9,397.6L527.1,396.8L527.3,396.0L527.5,395.1L527.7,394.3L527.8,393.5L528.0,392.6L528.2,391.8L528.4,391.0L528.6,390.1L528.7,389.3L528.9,388.5L529.1,387.6L529.3,386.8L529.5,386.0L529.7,385.1L529.8,384.3L530.0,383.5L530.2,382.6L530.4,381.8L530.6,381.0L530.7,380.2L530.9,379.3L531.1,378.5L531.3,377.7L531.5,376.8L531.6,376.0L531.8,375.2L532.0,374.3L532.2,373.5L532.4,372.7L532.6,371.8L532.7,371.0L532.9,370.2L533.1,369.4L533.3,368.5L533.5,367.7L533.6,366.9L533.8,366.1L534.0,365.3L534.2,364.4L534.4,363.6L534.5,362.8L534.7,362.0L534.9,361.2L535.1,360.4L535.3,359.6L535.5,358.7L535.6,357.9L535.8,357.1L536.0,356.3L536.2,355.5L536.4,354.7L536.5,353.9L536.7,353.2L536.9,352.4L537.1,351.6L537.3,350.8L537.4,350.0L537.6,349.3L537.4,350.4L537.1,351.5L536.9,352.6L536.7,353.7L536.4,354.8L536.2,355.9L535.9,357.0L535.7,358.1L535.5,359.2L535.2,360.4L535.0,361.5L534.7,362.6L534.5,363.7L534.2,364.8L534.0,365.9L533.8,367.0L533.5,368.1L533.3,369.2L533.0,370.3L532.8,371.5L532.6,372.6L532.3,373.7L532.1,374.8L531.8,375.9L531.6,377.0L531.3,378.1L531.1,379.2L530.9,380.3L530.6,381.4L530.4,382.5L530.1,383.6L529.9,384.7L529.7,385.8L529.4,386.9L529.2,388.0L528.9,389.1L528.7,390.2L528.4,391.3L528.2,392.4L528.0,393.5L527.7,394.6L527.5,395.7L527.2,396.8L527.0,397.9L526.8,399.0L526.5,400.0L526.3,401.1L526.0,402.2L525.8,403.3L525.5,404.3L525.3,405.4L525.1,406.5L524.8,407.5L524.6,408.6L524.3,409.6L524.1,410.7L523.9,411.7L523.6,412.7L523.4,413.8L523.6,412.7L523.9,411.5L524.1,410.4L524.3,409.3L524.6,408.2L524.8,407.1L525.1,406.0L525.3,404.9L525.5,403.8L525.8,402.7L526.0,401.5L526.3,400.4L526.5,399.3L526.8,398.2L527.0,397.1L527.2,396.0L527.5,394.9L527.7,393.8L528.0,392.7L528.2,391.6L528.4,390.5L528.7,389.3L528.9,388.2L529.2,387.1L529.4,386.0L529.7,384.9L529.9,383.8L530.1,382.7L530.4,381.6L530.6,380.5L530.9,379.4L531.1,378.3L531.3,377.2L531.6,376.1L531.8,375.0L532.1,373.9L532.3,372.8L532.6,371.7L532.8,370.6L533.0,369.5L533.3,368.4L533.5,367.3L533.8,366.2L534.0,365.2L534.2,364.1L534.5,363.0L534.7,361.9L535.0,360.9L535.2,359.8L535.5,358.7L535.7,357.6L535.9,356.6L536.2,355.5L536.4,354.5L536.7,353.4L536.9,352.4L537.1,351.3L537.4,350.3L537.6,349.3L537.4,350.4L537.1,351.5L536.9,352.6L536.7,353.7L536.4,354.8L536.2,355.9L535.9,357.0L535.7,358.1L535.5,359.2L535.2,360.4L535.0,361.5L534.7,362.6L534.5,363.7L534.2,364.8L534.0,365.9L533.8,367.0L533.5,368.1L533.3,369.2L533.0,370.3L532.8,371.5L532.6,372.6L532.3,373.7L532.1,374.8L531.8,375.9L531.6,377.0L531.3,378.1L531.1,379.2L530.9,380.3L530.6,381.4L530.4,382.5L530.1,383.6L529.9,384.7L529.7,385.8L529.4,386.9L529.2,388.0L528.9,389.1L528.7,390.2L528.4,391.3L528.2,392.4L528.0,393.5L527.7,394.6L527.5,395.7L527.2,396.8L527.0,397.9L526.8,399.0L526.5,400.0L526.3,401.1L526.0,402.2L525.8,403.3L525.5,404.3L525.3,405.4L525.1,406.5L524.8,407.5L524.6,408.6L524.3,409.6L524.1,410.7L523.9,411.7L523.6,412.7L523.4,413.8L523.7,412.5L523.9,411.2L524.2,409.9L524.5,408.7L524.8,407.4L525.0,406.1L525.3,404.8L525.6,403.5L525.9,402.3L526.2,401.0L526.4,399.7L526.7,398.4L527.0,397.2L527.3,395.9L527.5,394.6L527.8,393.3L528.1,392.1L528.4,390.8L528.7,389.5L528.9,388.2L529.2,387.0L529.5,385.7L529.8,384.4L530.0,383.2L530.3,381.9L530.6,380.6L530.9,379.4L531.2,378.1L531.4,376.8L531.7,375.6L532.0,374.3L532.3,373.1L532.5,371.8L532.8,370.6L533.1,369.3L533.4,368.1L533.7,366.9L533.9,365.6L534.2,364.4L534.5,363.2L534.8,362.0L535.0,360.8L535.3,359.5L535.6,358.3L535.9,357.1L536.2,356.0L536.4,354.8L536.7,353.6L537.0,352.4L537.3,351.3L537.5,350.1L537.8,349.0L538.1,347.8L538.4,346.7L538.7,345.6L538.9,344.5L539.2,343.4L539.5,342.3L539.8,341.2L539.5,342.6L539.1,344.0L538.8,345.4L538.5,346.9L538.2,348.3L537.9,349.7L537.6,351.1L537.3,352.5L537.0,353.9L536.7,355.3L536.4,356.8L536.1,358.2L535.8,359.6L535.5,361.0L535.1,362.4L534.8,363.8L534.5,365.3L534.2,366.7L533.9,368.1L533.6,369.5L533.3,370.9L533.0,372.3L532.7,373.7L532.4,375.1L532.1,376.6L531.8,378.0L531.4,379.4L531.1,380.8L530.8,382.2L530.5,383.6L530.2,385.0L529.9,386.4L529.6,387.8L529.3,389.2L529.0,390.6L528.7,392.0L528.4,393.4L528.1,394.8L527.8,396.1L527.4,397.5L527.1,398.9L526.8,400.3L526.5,401.6L526.2,403.0L525.9,404.4L525.6,405.7L525.3,407.1L525.0,408.4L524.7,409.8L524.4,411.1L524.1,412.4L523.7,413.8L523.4,415.1L523.1,416.4L522.8,417.7L522.5,419.0L522.2,420.3L521.9,421.6L521.6,422.8L521.9,421.4L522.2,420.0L522.5,418.6L522.8,417.2L523.1,415.8L523.4,414.3L523.7,412.9L524.1,411.5L524.4,410.1L524.7,408.7L525.0,407.3L525.3,405.8L525.6,404.4L525.9,403.0L526.2,401.6L526.5,400.2L526.8,398.8L527.1,397.4L527.4,395.9L527.8,394.5L528.1,393.1L528.4,391.7L528.7,390.3L529.0,388.9L529.3,387.5L529.6,386.1L529.9,384.7L530.2,383.3L530.5,381.9L530.8,380.5L531.1,379.1L531.4,377.7L531.8,376.3L532.1,374.9L532.4,373.5L532.7,372.1L533.0,370.7L533.3,369.3L533.6,367.9L533.9,366.5L534.2,365.2L534.5,363.8L534.8,362.4L535.1,361.1L535.5,359.7L535.8,358.3L536.1,357.0L536.4,355.6L536.7,354.3L537.0,353.0L537.3,351.6L537.6,350.3L537.9,349.0L538.2,347.7L538.5,346.4L538.8,345.1L539.1,343.8L539.5,342.5L539.8,341.2L539.5,342.6L539.1,344.0L538.8,345.4L538.5,346.9L538.2,348.3L537.9,349.7L537.6,351.1L537.3,352.5L537.0,353.9L536.7,355.3L536.4,356.8L536.1,358.2L535.8,359.6L535.5,361.0L535.1,362.4L534.8,363.8L534.5,365.3L534.2,366.7L533.9,368.1L533.6,369.5L533.3,370.9L533.0,372.3L532.7,373.7L532.4,375.1L532.1,376.6L531.8,378.0L531.4,379.4L531.1,380.8L530.8,382.2L530.5,383.6L530.2,385.0L529.9,386.4L529.6,387.8L529.3,389.2L529.0,390.6L528.7,392.0L528.4,393.4L528.1,394.8L527.8,396.1L527.4,397.5L527.1,398.9L526.8,400.3L526.5,401.6L526.2,403.0L525.9,404.4L525.6,405.7L525.3,407.1L525.0,408.4L524.7,409.8L524.4,411.1L524.1,412.4L523.7,413.8L523.4,415.1L523.1,416.4L522.8,417.7L522.5,419.0L522.2,420.3L521.9,421.6L521.6,422.8L522.0,421.2L522.3,419.5L522.7,417.8L523.0,416.2L523.4,414.5L523.8,412.8L524.1,411.2L524.5,409.5L524.9,407.8L525.2,406.2L525.6,404.5L525.9,402.9L526.3,401.2L526.7,399.5L527.0,397.9L527.4,396.2L527.8,394.6L528.1,392.9L528.5,391.3L528.8,389.6L529.2,388.0L529.6,386.3L529.9,384.7L530.3,383.1L530.7,381.4L531.0,379.8L531.4,378.2L531.7,376.6L532.1,375.0L532.5,373.4L532.8,371.8L533.2,370.2L533.5,368.7L533.9,367.1L534.3,365.5L534.6,364.0L535.0,362.5L535.4,361.0L535.7,359.4L536.1,358.0L536.4,356.5L536.8,355.0L537.2,353.6L537.5,352.1L537.9,350.7L538.3,349.3L538.6,347.9L539.0,346.5L539.3,345.2L539.7,343.8L540.1,342.5L540.4,341.2L540.8,339.9L541.2,338.7L541.5,337.4L541.9,336.2L542.2,335.0L542.6,333.8L543.0,332.6L542.6,334.4L542.2,336.3L541.8,338.1L541.4,339.9L541.0,341.8L540.6,343.6L540.2,345.4L539.8,347.2L539.4,349.1L539.0,350.9L538.6,352.7L538.2,354.5L537.8,356.4L537.4,358.2L537.0,360.0L536.6,361.8L536.2,363.6L535.8,365.4L535.4,367.3L535.0,369.1L534.6,370.9L534.2,372.7L533.8,374.5L533.4,376.2L533.0,378.0L532.6,379.8L532.2,381.6L531.8,383.3L531.4,385.1L531.0,386.8L530.7,388.6L530.3,390.3L529.9,392.0L529.5,393.7L529.1,395.4L528.7,397.1L528.3,398.8L527.9,400.4L527.5,402.0L527.1,403.7L526.7,405.3L526.3,406.8L525.9,408.4L525.5,409.9L525.1,411.5L524.7,413.0L524.3,414.5L523.9,415.9L523.5,417.3L523.1,418.8L522.7,420.2L522.3,421.5L521.9,422.9L521.5,424.2L521.1,425.5L520.7,426.7L520.3,428.0L519.9,429.2L519.5,430.4L519.9,428.6L520.3,426.7L520.7,424.9L521.1,423.1L521.5,421.3L521.9,419.4L522.3,417.6L522.7,415.8L523.1,414.0L523.5,412.1L523.9,410.3L524.3,408.5L524.7,406.7L525.1,404.9L525.5,403.0L525.9,401.2L526.3,399.4L526.7,397.6L527.1,395.8L527.5,394.0L527.9,392.2L528.3,390.4L528.7,388.6L529.1,386.8L529.5,385.1L529.9,383.3L530.3,381.5L530.7,379.8L531.0,378.0L531.4,376.3L531.8,374.6L532.2,372.9L532.6,371.2L533.0,369.5L533.4,367.8L533.8,366.1L534.2,364.5L534.6,362.8L535.0,361.2L535.4,359.6L535.8,358.0L536.2,356.4L536.6,354.9L537.0,353.3L537.4,351.8L537.8,350.3L538.2,348.8L538.6,347.4L539.0,345.9L539.4,344.5L539.8,343.1L540.2,341.7L540.6,340.3L541.0,339.0L541.4,337.7L541.8,336.4L542.2,335.1L542.6,333.8L543.0,332.6L542.6,334.4L542.2,336.3L541.8,338.1L541.4,339.9L541.0,341.8L540.6,343.6L540.2,345.4L539.8,347.2L539.4,349.1L539.0,350.9L538.6,352.7L538.2,354.5L537.8,356.4L537.4,358.2L537.0,360.0L536.6,361.8L536.2,363.6L535.8,365.4L535.4,367.3L535.0,369.1L534.6,370.9L534.2,372.7L533.8,374.5L533.4,376.2L533.0,378.0L532.6,379.8L532.2,381.6L531.8,383.3L531.4,385.1L531.0,386.8L530.7,388.6L530.3,390.3L529.9,392.0L529.5,393.7L529.1,395.4L528.7,397.1L528.3,398.8L527.9,400.4L527.5,402.0L527.1,403.7L526.7,405.3L526.3,406.8L525.9,408.4L525.5,409.9L525.1,411.5L524.7,413.0L524.3,414.5L523.9,415.9L523.5,417.3L523.1,418.8L522.7,420.2L522.3,421.5L521.9,422.9L521.5,424.2L521.1,425.5L520.7,426.7L520.3,428.0L519.9,429.2L519.5,430.4L520.3,427.0L521.0,423.7L521.7,420.3L522.4,417.0L523.2,413.7L523.9,410.4L524.6,407.1L525.4,403.9L526.1,400.7L526.8,397.5L527.6,394.5L528.3,391.4L529.0,388.5L529.7,385.6L530.5,382.8L531.2,380.0L531.9,377.4L532.7,374.9L533.4,372.4L534.1,370.0L534.8,367.8L535.6,365.6L536.3,363.5L537.0,361.5L537.8,359.6L538.5,357.8L539.2,356.1L540.0,354.5L540.7,353.0L541.4,351.5L542.1,350.1L542.9,348.8L543.6,347.5L544.3,346.3L545.1,345.2L545.8,344.2L546.5,343.2L547.2,342.2L548.0,341.3L548.7,340.5L549.4,339.7L550.2,338.9L550.9,338.2L551.6,337.5L552.4,336.8L553.1,336.2L553.8,335.7L554.5,335.1L555.3,334.6L556.0,334.1L556.7,333.6L557.5,333.2L558.2,332.7L558.9,332.3L559.6,332.0L560.4,331.6L561.1,331.3L561.8,330.9L562.6,330.6L561.5,335.5L560.4,340.3L559.4,345.1L558.3,349.9L557.3,354.7L556.2,359.3L555.2,363.9L554.1,368.3L553.1,372.6L552.0,376.7L550.9,380.7L549.9,384.5L548.8,388.1L547.8,391.4L546.7,394.6L545.7,397.6L544.6,400.4L543.5,403.0L542.5,405.4L541.4,407.6L540.4,409.7L539.3,411.6L538.3,413.4L537.2,415.0L536.1,416.5L535.1,417.9L534.0,419.2L533.0,420.4L531.9,421.5L530.9,422.6L529.8,423.5L528.7,424.4L527.7,425.2L526.6,426.0L525.6,426.7L524.5,427.4L523.5,428.0L522.4,428.6L521.4,429.2L520.3,429.7L519.2,430.2L518.2,430.7L517.1,431.1L516.1,431.5L515.0,431.9L514.0,432.3L512.9,432.6L511.8,433.0L510.8,433.3L509.7,433.6L508.7,433.9L507.6,434.2L506.6,434.5L505.5,434.7L504.4,435.0L503.4,435.2L502.3,435.5L501.3,435.7L500.2,435.9L501.3,431.1L502.3,426.2L503.4,421.4L504.4,416.7L505.5,412.0L506.6,407.5L507.6,403.0L508.7,398.7L509.7,394.6L510.8,390.6L511.8,386.8L512.9,383.2L514.0,379.8L515.0,376.5L516.1,373.5L517.1,370.6L518.2,367.9L519.2,365.3L520.3,362.9L521.4,360.7L522.4,358.6L523.5,356.7L524.5,354.9L525.6,353.2L526.6,351.6L527.7,350.1L528.7,348.8L529.8,347.5L530.9,346.3L531.9,345.2L533.0,344.1L534.0,343.1L535.1,342.2L536.1,341.4L537.2,340.6L538.3,339.8L539.3,339.1L540.4,338.5L541.4,337.8L542.5,337.3L543.5,336.7L544.6,336.2L545.7,335.7L546.7,335.2L547.8,334.8L548.8,334.4L549.9,334.0L550.9,333.6L552.0,333.3L553.1,332.9L554.1,332.6L555.2,332.3L556.2,332.1L557.3,331.8L558.3,331.5L559.4,331.3L560.4,331.0L561.5,330.8L562.6,330.6L561.5,335.5L560.4,340.3L559.4,345.1L558.3,349.9L557.3,354.7L556.2,359.3L555.2,363.9L554.1,368.3L553.1,372.6L552.0,376.7L550.9,380.7L549.9,384.5L548.8,388.1L547.8,391.4L546.7,394.6L545.7,397.6L544.6,400.4L543.5,403.0L542.5,405.4L541.4,407.6L540.4,409.7L539.3,411.6L538.3,413.4L537.2,415.0L536.1,416.5L535.1,417.9L534.0,419.2L533.0,420.4L531.9,421.5L530.9,422.6L529.8,423.5L528.7,424.4L527.7,425.2L526.6,426.0L525.6,426.7L524.5,427.4L523.5,428.0L522.4,428.6L521.4,429.2L520.3,429.7L519.2,430.2L518.2,430.7L517.1,431.1L516.1,431.5L515.0,431.9L514.0,432.3L512.9,432.6L511.8,433.0L510.8,433.3L509.7,433.6L508.7,433.9L507.6,434.2L506.6,434.5L505.5,434.7L504.4,435.0L503.4,435.2L502.3,435.5L501.3,435.7L500.2,435.9L501.6,429.5L503.0,423.1L504.4,416.9L505.8,410.8L507.2,405.0L508.6,399.4L510.0,394.1L511.4,389.1L512.8,384.4L514.2,380.1L515.6,376.1L517.0,372.3L518.4,368.9L519.8,365.7L521.2,362.8L522.6,360.1L524.0,357.7L525.4,355.5L526.8,353.4L528.2,351.5L529.6,349.8L531.0,348.2L532.4,346.7L533.8,345.4L535.2,344.2L536.6,343.0L538.0,342.0L539.4,341.0L540.8,340.1L542.2,339.2L543.6,338.5L545.0,337.7L546.4,337.1L547.8,336.4L549.2,335.8L550.6,335.3L552.1,334.8L553.5,334.3L554.9,333.9L556.3,333.4L557.7,333.0L559.1,332.7L560.5,332.3L561.9,332.0L563.3,331.7L564.7,331.4L566.1,331.1L567.5,330.8L568.9,330.6L570.3,330.3L571.7,330.1L573.1,329.9L574.5,329.7L575.9,329.5L577.3,329.3L578.7,329.1L580.1,328.9L581.5,328.7L582.9,328.6L581.1,336.6L579.4,344.5L577.6,352.3L575.9,359.8L574.1,366.9L572.4,373.5L570.7,379.7L568.9,385.4L567.2,390.5L565.4,395.1L563.7,399.2L561.9,402.8L560.2,406.1L558.5,409.0L556.7,411.6L555.0,413.8L553.2,415.9L551.5,417.7L549.7,419.3L548.0,420.7L546.2,422.0L544.5,423.2L542.8,424.3L541.0,425.3L539.3,426.1L537.5,427.0L535.8,427.7L534.0,428.4L532.3,429.0L530.6,429.6L528.8,430.2L527.1,430.7L525.3,431.2L523.6,431.7L521.8,432.1L520.1,432.5L518.3,432.9L516.6,433.3L514.9,433.7L513.1,434.0L511.4,434.3L509.6,434.7L507.9,435.0L506.1,435.3L504.4,435.6L502.7,435.8L500.9,436.1L499.2,436.4L497.4,436.6L495.7,436.9L493.9,437.1L492.2,437.4L490.4,437.6L488.7,437.9L487.0,438.1L485.2,438.3L483.5,438.5L481.7,438.7L480.0,439.0L481.7,431.0L483.5,423.1L485.2,415.5L487.0,408.3L488.7,401.4L490.4,395.0L492.2,389.1L493.9,383.7L495.7,378.8L497.4,374.3L499.2,370.2L500.9,366.5L502.7,363.2L504.4,360.2L506.1,357.5L507.9,355.1L509.6,352.9L511.4,350.9L513.1,349.1L514.9,347.5L516.6,346.0L518.3,344.6L520.1,343.4L521.8,342.3L523.6,341.2L525.3,340.3L527.1,339.4L528.8,338.6L530.6,337.9L532.3,337.2L534.0,336.6L535.8,336.0L537.5,335.5L539.3,334.9L541.0,334.5L542.8,334.0L544.5,333.6L546.2,333.2L548.0,332.9L549.7,332.5L551.5,332.2L553.2,331.9L555.0,331.6L556.7,331.4L558.5,331.1L560.2,330.9L561.9,330.6L563.7,330.4L565.4,330.2L567.2,330.0L568.9,329.8L570.7,329.6L572.4,329.5L574.1,329.3L575.9,329.2L577.6,329.0L579.4,328.9L581.1,328.7L582.9,328.6L581.1,336.6L579.4,344.5L577.6,352.3L575.9,359.8L574.1,366.9L572.4,373.5L570.7,379.7L568.9,385.4L567.2,390.5L565.4,395.1L563.7,399.2L561.9,402.8L560.2,406.1L558.5,409.0L556.7,411.6L555.0,413.8L553.2,415.9L551.5,417.7L549.7,419.3L548.0,420.7L546.2,422.0L544.5,423.2L542.8,424.3L541.0,425.3L539.3,426.1L537.5,427.0L535.8,427.7L534.0,428.4L532.3,429.0L530.6,429.6L528.8,430.2L527.1,430.7L525.3,431.2L523.6,431.7L521.8,432.1L520.1,432.5L518.3,432.9L516.6,433.3L514.9,433.7L513.1,434.0L511.4,434.3L509.6,434.7L507.9,435.0L506.1,435.3L504.4,435.6L502.7,435.8L500.9,436.1L499.2,436.4L497.4,436.6L495.7,436.9L493.9,437.1L492.2,437.4L490.4,437.6L488.7,437.9L487.0,438.1L485.2,438.3L483.5,438.5L481.7,438.7L480.0,439.0L482.1,429.4L484.1,420.2L486.2,411.3L488.3,403.0L490.4,395.4L492.5,388.4L494.6,382.1L496.6,376.5L498.7,371.5L500.8,367.0L502.9,363.0L505.0,359.5L507.0,356.4L509.1,353.7L511.2,351.2L513.3,349.0L515.4,347.1L517.5,345.3L519.5,343.8L521.6,342.4L523.7,341.1L525.8,339.9L527.9,338.9L530.0,337.9L532.0,337.1L534.1,336.3L536.2,335.6L538.3,334.9L540.4,334.3L542.4,333.7L544.5,333.2L546.6,332.7L548.7,332.3L550.8,331.9L552.9,331.5L554.9,331.1L557.0,330.8L559.1,330.4L561.2,330.1L563.3,329.9L565.3,329.6L567.4,329.4L569.5,329.1L571.6,328.9L573.7,328.7L575.8,328.5L577.8,328.3L579.9,328.1L582.0,327.9L584.1,327.8L586.2,327.6L588.2,327.5L590.3,327.3L592.4,327.2L594.5,327.1L596.6,326.9L598.7,326.8L600.7,326.7L602.8,326.6L600.4,337.7L598.0,348.5L595.6,358.9L593.1,368.4L590.7,377.1L588.3,384.7L585.9,391.4L583.4,397.1L581.0,401.9L578.6,406.1L576.2,409.6L573.8,412.6L571.3,415.2L568.9,417.4L566.5,419.3L564.1,421.0L561.7,422.4L559.2,423.7L556.8,424.9L554.4,425.9L552.0,426.8L549.6,427.7L547.1,428.4L544.7,429.1L542.3,429.8L539.9,430.4L537.4,430.9L535.0,431.5L532.6,432.0L530.2,432.4L527.8,432.9L525.3,433.3L522.9,433.7L520.5,434.1L518.1,434.5L515.7,434.8L513.2,435.2L510.8,435.5L508.4,435.9L506.0,436.2L503.5,436.5L501.1,436.8L498.7,437.1L496.3,437.4L493.9,437.7L491.4,438.0L489.0,438.3L486.6,438.6L484.2,438.9L481.8,439.1L479.3,439.4L476.9,439.7L474.5,439.9L472.1,440.2L469.6,440.5L467.2,440.7L464.8,441.0L462.4,441.2L460.0,441.5L462.4,430.4L464.8,419.7L467.2,409.7L469.6,400.5L472.1,392.1L474.5,384.7L476.9,378.2L479.3,372.4L481.8,367.4L484.2,363.0L486.6,359.2L489.0,355.9L491.4,353.0L493.9,350.4L496.3,348.2L498.7,346.2L501.1,344.4L503.5,342.9L506.0,341.5L508.4,340.2L510.8,339.1L513.2,338.1L515.7,337.2L518.1,336.4L520.5,335.6L522.9,335.0L525.3,334.3L527.8,333.8L530.2,333.2L532.6,332.8L535.0,332.3L537.4,331.9L539.9,331.5L542.3,331.2L544.7,330.8L547.1,330.5L549.6,330.2L552.0,330.0L554.4,329.7L556.8,329.5L559.2,329.2L561.7,329.0L564.1,328.8L566.5,328.6L568.9,328.4L571.3,328.3L573.8,328.1L576.2,327.9L578.6,327.8L581.0,327.6L583.4,327.5L585.9,327.4L588.3,327.2L590.7,327.1L593.1,327.0L595.6,326.9L598.0,326.8L600.4,326.7L602.8,326.6L600.4,337.7L598.0,348.5L595.6,358.9L593.1,368.4L590.7,377.1L588.3,384.7L585.9,391.4L583.4,397.1L581.0,401.9L578.6,406.1L576.2,409.6L573.8,412.6L571.3,415.2L568.9,417.4L566.5,419.3L564.1,421.0L561.7,422.4L559.2,423.7L556.8,424.9L554.4,425.9L552.0,426.8L549.6,427.7L547.1,428.4L544.7,429.1L542.3,429.8L539.9,430.4L537.4,430.9L535.0,431.5L532.6,432.0L530.2,432.4L527.8,432.9L525.3,433.3L522.9,433.7L520.5,434.1L518.1,434.5L515.7,434.8L513.2,435.2L510.8,435.5L508.4,435.9L506.0,436.2L503.5,436.5L501.1,436.8L498.7,437.1L496.3,437.4L493.9,437.7L491.4,438.0L489.0,438.3L486.6,438.6L484.2,438.9L481.8,439.1L479.3,439.4L476.9,439.7L474.5,439.9L472.1,440.2L469.6,440.5L467.2,440.7L464.8,441.0L462.4,441.2L460.0,441.5L462.7,428.9L465.5,416.8L468.3,405.7L471.0,395.6L473.8,386.8L476.6,379.0L479.3,372.4L482.1,366.7L484.9,361.8L487.6,357.6L490.4,354.0L493.1,350.9L495.9,348.2L498.7,345.9L501.4,343.9L504.2,342.1L507.0,340.5L509.7,339.2L512.5,337.9L515.3,336.9L518.0,335.9L520.8,335.0L523.6,334.2L526.3,333.5L529.1,332.9L531.9,332.3L534.6,331.8L537.4,331.3L540.2,330.8L542.9,330.4L545.7,330.1L548.5,329.7L551.2,329.4L554.0,329.1L556.8,328.8L559.5,328.5L562.3,328.3L565.1,328.0L567.8,327.8L570.6,327.6L573.3,327.4L576.1,327.2L578.9,327.0L581.6,326.9L584.4,326.7L587.2,326.6L589.9,326.4L592.7,326.3L595.5,326.1L598.2,326.0L601.0,325.9L603.8,325.8L606.5,325.7L609.3,325.6L612.1,325.4L614.8,325.3L617.6,325.2L620.4,325.2L623.1,325.1L620.0,339.3L616.9,353.1L613.8,365.7L610.6,376.8L607.5,386.2L604.4,394.0L601.3,400.4L598.1,405.5L595.0,409.8L591.9,413.2L588.8,416.0L585.6,418.4L582.5,420.4L579.4,422.1L576.3,423.5L573.2,424.8L570.0,425.9L566.9,426.9L563.8,427.7L560.7,428.5L557.5,429.3L554.4,429.9L551.3,430.6L548.2,431.2L545.1,431.7L541.9,432.2L538.8,432.7L535.7,433.2L532.6,433.7L529.4,434.1L526.3,434.5L523.2,434.9L520.1,435.3L516.9,435.7L513.8,436.1L510.7,436.5L507.6,436.8L504.5,437.2L501.3,437.5L498.2,437.9L495.1,438.2L492.0,438.6L488.8,438.9L485.7,439.3L482.6,439.6L479.5,439.9L476.3,440.2L473.2,440.6L470.1,440.9L467.0,441.2L463.9,441.5L460.7,441.8L457.6,442.1L454.5,442.5L451.4,442.8L448.2,443.1L445.1,443.4L442.0,443.7L438.9,444.0L442.0,429.8L445.1,416.3L448.2,404.1L451.4,393.3L454.5,383.9L457.6,376.0L460.7,369.2L463.9,363.6L467.0,358.8L470.1,354.7L473.2,351.3L476.3,348.4L479.5,345.9L482.6,343.8L485.7,341.9L488.8,340.3L492.0,338.9L495.1,337.7L498.2,336.6L501.3,335.6L504.5,334.8L507.6,334.0L510.7,333.3L513.8,332.7L516.9,332.1L520.1,331.6L523.2,331.1L526.3,330.7L529.4,330.3L532.6,329.9L535.7,329.6L538.8,329.3L541.9,329.0L545.1,328.7L548.2,328.5L551.3,328.2L554.4,328.0L557.5,327.8L560.7,327.6L563.8,327.4L566.9,327.2L570.0,327.0L573.2,326.9L576.3,326.7L579.4,326.6L582.5,326.5L585.6,326.3L588.8,326.2L591.9,326.1L595.0,326.0L598.1,325.8L601.3,325.7L604.4,325.6L607.5,325.5L610.6,325.4L613.8,325.3L616.9,325.2L620.0,325.1L623.1,325.1L620.0,339.3L616.9,353.1L613.8,365.7L610.6,376.8L607.5,386.2L604.4,394.0L601.3,400.4L598.1,405.5L595.0,409.8L591.9,413.2L588.8,416.0L585.6,418.4L582.5,420.4L579.4,422.1L576.3,423.5L573.2,424.8L570.0,425.9L566.9,426.9L563.8,427.7L560.7,428.5L557.5,429.3L554.4,429.9L551.3,430.6L548.2,431.2L545.1,431.7L541.9,432.2L538.8,432.7L535.7,433.2L532.6,433.7L529.4,434.1L526.3,434.5L523.2,434.9L520.1,435.3L516.9,435.7L513.8,436.1L510.7,436.5L507.6,436.8L504.5,437.2L501.3,437.5L498.2,437.9L495.1,438.2L492.0,438.6L488.8,438.9L485.7,439.3L482.6,439.6L479.5,439.9L476.3,440.2L473.2,440.6L470.1,440.9L467.0,441.2L463.9,441.5L460.7,441.8L457.6,442.1L454.5,442.5L451.4,442.8L448.2,443.1L445.1,443.4L442.0,443.7L438.9,444.0L442.3,428.3L445.8,413.6L449.2,400.4L452.7,388.9L456.2,379.2L459.6,371.1L463.1,364.4L466.5,358.8L470.0,354.2L473.5,350.4L476.9,347.1L480.4,344.4L483.8,342.1L487.3,340.1L490.8,338.4L494.2,336.9L497.7,335.7L501.1,334.5L504.6,333.5L508.0,332.7L511.5,331.9L515.0,331.2L518.4,330.6L521.9,330.0L525.3,329.5L528.8,329.0L532.3,328.6L535.7,328.2L539.2,327.9L542.6,327.5L546.1,327.2L549.5,326.9L553.0,326.7L556.5,326.4L559.9,326.2L563.4,326.0L566.8,325.8L570.3,325.6L573.8,325.4L577.2,325.2L580.7,325.1L584.1,324.9L587.6,324.8L591.1,324.6L594.5,324.5L598.0,324.4L601.4,324.2L604.9,324.1L608.3,324.0L611.8,323.9L615.3,323.8L618.7,323.7L622.2,323.6L625.6,323.5L629.1,323.4L632.6,323.3L636.0,323.2L639.5,323.1L642.9,323.0L639.1,340.4L635.3,356.8L631.5,371.3L627.7,383.4L623.9,393.1L620.1,400.7L616.2,406.7L612.4,411.3L608.6,414.9L604.8,417.9L601.0,420.2L597.2,422.2L593.4,423.8L589.5,425.2L585.7,426.5L581.9,427.5L578.1,428.5L574.3,429.3L570.5,430.1L566.7,430.8L562.8,431.5L559.0,432.1L555.2,432.7L551.4,433.3L547.6,433.8L543.8,434.3L540.0,434.8L536.1,435.3L532.3,435.8L528.5,436.2L524.7,436.7L520.9,437.1L517.1,437.5L513.3,438.0L509.5,438.4L505.6,438.8L501.8,439.2L498.0,439.6L494.2,440.0L490.4,440.4L486.6,440.8L482.8,441.2L478.9,441.6L475.1,442.0L471.3,442.3L467.5,442.7L463.7,443.1L459.9,443.5L456.1,443.8L452.2,444.2L448.4,444.6L444.6,445.0L440.8,445.3L437.0,445.7L433.2,446.1L429.4,446.4L425.6,446.8L421.7,447.2L417.9,447.5L421.7,430.2L425.6,414.2L429.4,400.0L433.2,387.9L437.0,377.8L440.8,369.5L444.6,362.8L448.4,357.2L452.2,352.7L456.1,348.9L459.9,345.8L463.7,343.2L467.5,341.0L471.3,339.1L475.1,337.5L478.9,336.1L482.8,334.9L486.6,333.9L490.4,332.9L494.2,332.1L498.0,331.4L501.8,330.8L505.6,330.2L509.5,329.7L513.3,329.2L517.1,328.7L520.9,328.3L524.7,328.0L528.5,327.6L532.3,327.3L536.1,327.1L540.0,326.8L543.8,326.5L547.6,326.3L551.4,326.1L555.2,325.9L559.0,325.7L562.8,325.5L566.7,325.3L570.5,325.2L574.3,325.0L578.1,324.9L581.9,324.7L585.7,324.6L589.5,324.5L593.4,324.3L597.2,324.2L601.0,324.1L604.8,324.0L608.6,323.9L612.4,323.8L616.2,323.7L620.1,323.6L623.9,323.5L627.7,323.4L631.5,323.3L635.3,323.2L639.1,323.1L642.9,323.0L639.1,340.4L635.3,356.8L631.5,371.3L627.7,383.4L623.9,393.1L620.1,400.7L616.2,406.7L612.4,411.3L608.6,414.9L604.8,417.9L601.0,420.2L597.2,422.2L593.4,423.8L589.5,425.2L585.7,426.5L581.9,427.5L578.1,428.5L574.3,429.3L570.5,430.1L566.7,430.8L562.8,431.5L559.0,432.1L555.2,432.7L551.4,433.3L547.6,433.8L543.8,434.3L540.0,434.8L536.1,435.3L532.3,435.8L528.5,436.2L524.7,436.7L520.9,437.1L517.1,437.5L513.3,438.0L509.5,438.4L505.6,438.8L501.8,439.2L498.0,439.6L494.2,440.0L490.4,440.4L486.6,440.8L482.8,441.2L478.9,441.6L475.1,442.0L471.3,442.3L467.5,442.7L463.7,443.1L459.9,443.5L456.1,443.8L452.2,444.2L448.4,444.6L444.6,445.0L440.8,445.3L437.0,445.7L433.2,446.1L429.4,446.4L425.6,446.8L421.7,447.2L417.9,447.5L421.7,430.2L425.6,414.2L429.4,400.0L433.2,387.8L437.0,377.8L440.8,369.5L444.6,362.7L448.4,357.1L452.2,352.6L456.1,348.8L459.9,345.7L463.7,343.0L467.5,340.8L471.3,338.9L475.1,337.3L478.9,335.9L482.8,334.7L486.6,333.7L490.4,332.7L494.2,331.9L498.0,331.2L501.8,330.5L505.6,330.0L509.5,329.4L513.3,328.9L517.1,328.5L520.9,328.1L524.7,327.8L528.5,327.4L532.3,327.1L536.1,326.8L540.0,326.6L543.8,326.3L547.6,326.1L551.4,325.9L555.2,325.6L559.0,325.5L562.8,325.3L566.7,325.1L570.5,324.9L574.3,324.8L578.1,324.6L581.9,324.5L585.7,324.3L589.5,324.2L593.4,324.1L597.2,324.0L601.0,323.9L604.8,323.7L608.6,323.6L612.4,323.5L616.2,323.4L620.1,323.3L623.9,323.2L627.7,323.1L631.5,323.1L635.3,323.0L639.1,322.9L642.9,322.8" fill="none" stroke="#002060" stroke-width="2.8" stroke-linejoin="round"/>
<text x="169.2" y="12.2" text-anchor="end" font-family="Liberation Serif, serif" stroke="#000" stroke-width="0.35" font-size="17">2</text>
<text x="169.2" y="36.8" text-anchor="end" font-family="Liberation Serif, serif" stroke="#000" stroke-width="0.35" font-size="17">1.5</text>
<text x="169.2" y="61.4" text-anchor="end" font-family="Liberation Serif, serif" stroke="#000" stroke-width="0.35" font-size="17">1</text>
<text x="169.2" y="86.0" text-anchor="end" font-family="Liberation Serif, serif" stroke="#000" stroke-width="0.35" font-size="17">0.5</text>
<text x="169.2" y="110.6" text-anchor="end" font-family="Liberation Serif, serif" stroke="#000" stroke-width="0.35" font-size="17">0</text>
<text x="169.2" y="135.2" text-anchor="end" font-family="Liberation Serif, serif" stroke="#000" stroke-width="0.35" font-size="17">-0.5</text>
<text x="169.2" y="159.8" text-anchor="end" font-family="Liberation Serif, serif" stroke="#000" stroke-width="0.35" font-size="17">-1</text>
<text x="169.2" y="184.5" text-anchor="end" font-family="Liberation Serif, serif" stroke="#000" stroke-width="0.35" font-size="17">-1.5</text>
<text x="169.2" y="209.0" text-anchor="end" font-family="Liberation Serif, serif" stroke="#000" stroke-width="0.35" font-size="17">-2</text>
<text x="184.0" y="230.3" text-anchor="middle" font-family="Liberation Serif, serif" font-weight="bold" font-size="17">-20</text>
<text x="277.0" y="230.3" text-anchor="middle" font-family="Liberation Serif, serif" font-weight="bold" font-size="17">-10</text>
<text x="370.0" y="230.3" text-anchor="middle" font-family="Liberation Serif, serif" font-weight="bold" font-size="17">0</text>
<text x="463.0" y="230.3" text-anchor="middle" font-family="Liberation Serif, serif" font-weight="bold" font-size="17">10</text>
<text x="556.0" y="230.3" text-anchor="middle" font-family="Liberation Serif, serif" font-weight="bold" font-size="17">20</text>
<text x="371.5" y="247.3" text-anchor="middle" font-family="Liberation Serif, serif" stroke="#000" stroke-width="0.35" font-size="17" letter-spacing="1.5">d/dy</text>
<text transform="translate(133.6,110.2) rotate(-90)" text-anchor="middle" font-family="Liberation Serif, serif" stroke="#000" stroke-width="0.35" font-size="17" letter-spacing="1.2">P/Py</text>
<text x="189" y="24" font-family="Liberation Serif, serif" stroke="#000" stroke-width="0.35" font-size="17" letter-spacing="0.9">(a)</text>
<text x="41.2" y="285.1" text-anchor="end" font-family="Liberation Sans, sans-serif" font-weight="bold" font-size="15.6">2</text>
<text x="41.2" y="310.3" text-anchor="end" font-family="Liberation Sans, sans-serif" font-weight="bold" font-size="15.6">1.5</text>
<text x="41.2" y="335.5" text-anchor="end" font-family="Liberation Sans, sans-serif" font-weight="bold" font-size="15.6">1</text>
<text x="41.2" y="360.7" text-anchor="end" font-family="Liberation Sans, sans-serif" font-weight="bold" font-size="15.6">0.5</text>
<text x="41.2" y="385.9" text-anchor="end" font-family="Liberation Sans, sans-serif" font-weight="bold" font-size="15.6">0</text>
<text x="41.2" y="411.1" text-anchor="end" font-family="Liberation Sans, sans-serif" font-weight="bold" font-size="15.6">-0.5</text>
<text x="41.2" y="436.3" text-anchor="end" font-family="Liberation Sans, sans-serif" font-weight="bold" font-size="15.6">-1</text>
<text x="41.2" y="461.5" text-anchor="end" font-family="Liberation Sans, sans-serif" font-weight="bold" font-size="15.6">-1.5</text>
<text x="41.2" y="486.7" text-anchor="end" font-family="Liberation Sans, sans-serif" font-weight="bold" font-size="15.6">-2</text>
<text x="56.1" y="508.0" text-anchor="middle" font-family="Liberation Sans, sans-serif" font-weight="bold" font-size="15.6">-20</text>
<text x="128.8" y="508.0" text-anchor="middle" font-family="Liberation Sans, sans-serif" font-weight="bold" font-size="15.6">-10</text>
<text x="201.5" y="508.0" text-anchor="middle" font-family="Liberation Sans, sans-serif" font-weight="bold" font-size="15.6">0</text>
<text x="274.2" y="508.0" text-anchor="middle" font-family="Liberation Sans, sans-serif" font-weight="bold" font-size="15.6">10</text>
<text x="346.9" y="508.0" text-anchor="middle" font-family="Liberation Sans, sans-serif" font-weight="bold" font-size="15.6">20</text>
<text x="201.2" y="524.7" text-anchor="middle" font-family="Liberation Sans, sans-serif" font-weight="bold" font-size="15.2">d/dy</text>
<text transform="translate(11.8,380.5) rotate(-90)" text-anchor="middle" font-family="Liberation Sans, sans-serif" font-weight="bold" font-size="14.5">P/Py</text>
<text x="64.3" y="297.8" font-family="Liberation Serif, serif" font-weight="bold" font-size="17">(b)</text>
<text x="388.3" y="508.0" text-anchor="middle" font-family="Liberation Sans, sans-serif" font-weight="bold" font-size="15.6">-20</text>
<text x="459.6" y="508.0" text-anchor="middle" font-family="Liberation Sans, sans-serif" font-weight="bold" font-size="15.6">-10</text>
<text x="530.8" y="508.0" text-anchor="middle" font-family="Liberation Sans, sans-serif" font-weight="bold" font-size="15.6">0</text>
<text x="602.0" y="508.0" text-anchor="middle" font-family="Liberation Sans, sans-serif" font-weight="bold" font-size="15.6">10</text>
<text x="673.3" y="508.0" text-anchor="middle" font-family="Liberation Sans, sans-serif" font-weight="bold" font-size="15.6">20</text>
<text x="530.8" y="524.7" text-anchor="middle" font-family="Liberation Sans, sans-serif" font-weight="bold" font-size="15.2">d/dy</text>
<text x="397.2" y="298.2" font-family="Liberation Sans, sans-serif" font-weight="bold" font-size="16.5">(c)</text>
<rect x="494.6" y="140.8" width="189.8" height="55.2" fill="#fff" stroke="#595959" stroke-width="1"/>
<line x1="503.2" y1="154.8" x2="534.2" y2="154.8" stroke="#000" stroke-width="2.2"/>
<line x1="503.2" y1="181.1" x2="534.2" y2="181.1" stroke="#c00000" stroke-width="2.2"/>
<text x="548.2" y="160.4" font-family="Liberation Sans, sans-serif" font-weight="bold" font-size="14.4" textLength="119.6" lengthAdjust="spacingAndGlyphs">Experimental test</text>
<text x="548.2" y="186.6" font-family="Liberation Sans, sans-serif" font-weight="bold" font-size="14.4" textLength="114.5" lengthAdjust="spacingAndGlyphs">OpenSEES model</text>
</svg>
</body></html>
